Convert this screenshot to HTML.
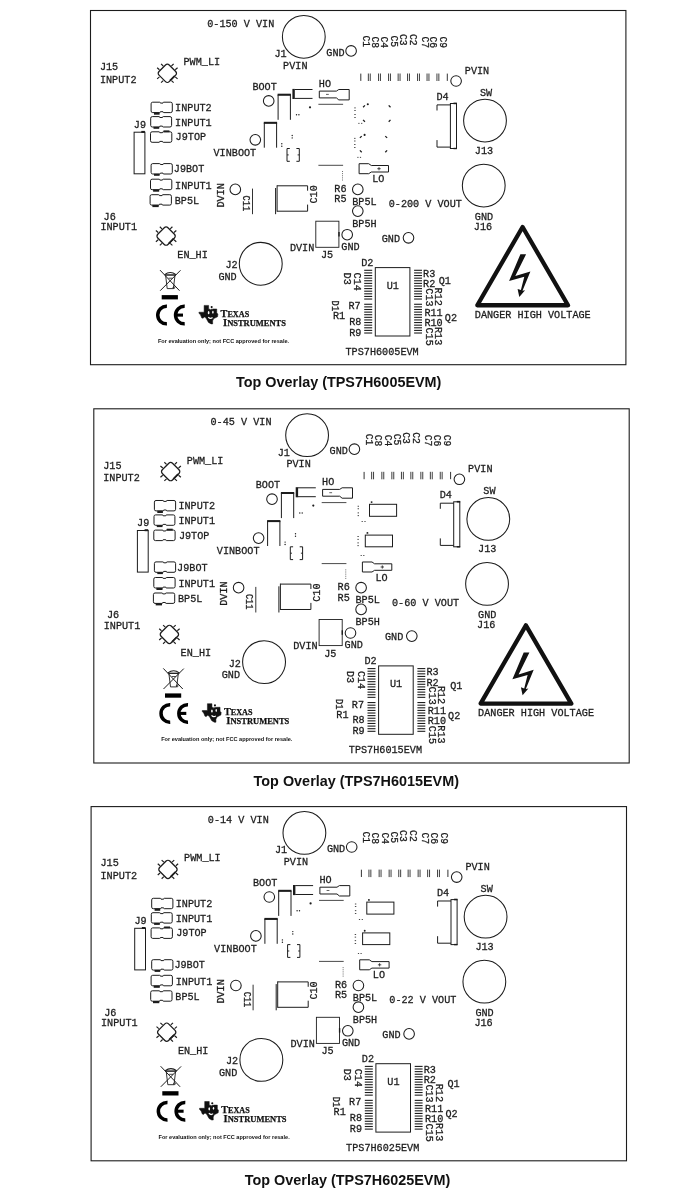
<!DOCTYPE html>
<html lang="en"><head><meta charset="utf-8"><title>Top Overlay</title>
<style>
html,body{margin:0;padding:0;background:#fff;}
body{width:689px;height:1200px;overflow:hidden;}
svg{display:block;will-change:transform;}
.brd{fill:none;stroke:#1c1c1c;stroke-linecap:butt;}
.brd text{font-family:"Liberation Mono","DejaVu Sans Mono",monospace;font-size:10.5px;fill:#1c1c1c;stroke:#1c1c1c;stroke-width:0.28px;}
.brd text.ti{font-family:"Liberation Serif","DejaVu Serif",serif;font-weight:bold;fill:#111;stroke:#111;stroke-width:0.25px;}
.brd text.fcc{font-family:"Liberation Sans","DejaVu Sans",sans-serif;font-weight:bold;font-size:4.9px;fill:#111;stroke:none;}
.cap{font-family:"Liberation Sans","DejaVu Sans",sans-serif;font-weight:bold;font-size:14.3px;fill:#111;}
</style></head><body>
<svg width="689" height="1200" viewBox="0 0 689 1200">
<rect width="689" height="1200" fill="#fff"/>
<g class="brd" transform="translate(90.5,10.5)">
<rect x="0" y="0" width="535.4" height="354.2" stroke-width="1.1"/>
<text x="116.70" y="16.30" textLength="67.10" lengthAdjust="spacingAndGlyphs">0-150 V VIN</text>
<text x="93.00" y="54.80" textLength="36.60" lengthAdjust="spacingAndGlyphs">PWM_LI</text>
<text x="9.40" y="59.80" textLength="18.30" lengthAdjust="spacingAndGlyphs">J15</text>
<text x="9.40" y="72.30" textLength="36.60" lengthAdjust="spacingAndGlyphs">INPUT2</text>
<text x="84.60" y="100.40" textLength="36.60" lengthAdjust="spacingAndGlyphs">INPUT2</text>
<text x="43.30" y="117.20" textLength="12.20" lengthAdjust="spacingAndGlyphs">J9</text>
<text x="84.60" y="115.20" textLength="36.60" lengthAdjust="spacingAndGlyphs">INPUT1</text>
<text x="85.10" y="129.80" textLength="30.50" lengthAdjust="spacingAndGlyphs">J9TOP</text>
<text x="123.00" y="145.10" textLength="42.70" lengthAdjust="spacingAndGlyphs">VINBOOT</text>
<text x="83.30" y="161.80" textLength="30.50" lengthAdjust="spacingAndGlyphs">J9BOT</text>
<text x="84.60" y="178.20" textLength="36.60" lengthAdjust="spacingAndGlyphs">INPUT1</text>
<text x="84.20" y="193.60" textLength="24.40" lengthAdjust="spacingAndGlyphs">BP5L</text>
<text transform="translate(133.00,197.00) rotate(-90)" textLength="24.40" lengthAdjust="spacingAndGlyphs">DVIN</text>
<text transform="translate(152.60,185.10) rotate(90)" textLength="15.60" lengthAdjust="spacingAndGlyphs">C11</text>
<text x="13.10" y="209.60" textLength="12.20" lengthAdjust="spacingAndGlyphs">J6</text>
<text x="9.90" y="219.90" textLength="36.60" lengthAdjust="spacingAndGlyphs">INPUT1</text>
<text x="86.80" y="247.10" textLength="30.50" lengthAdjust="spacingAndGlyphs">EN_HI</text>
<text x="134.90" y="257.80" textLength="12.20" lengthAdjust="spacingAndGlyphs">J2</text>
<text x="127.90" y="269.00" textLength="18.30" lengthAdjust="spacingAndGlyphs">GND</text>
<text x="183.90" y="46.80" textLength="12.20" lengthAdjust="spacingAndGlyphs">J1</text>
<text x="192.60" y="58.20" textLength="24.40" lengthAdjust="spacingAndGlyphs">PVIN</text>
<text x="235.80" y="45.70" textLength="18.30" lengthAdjust="spacingAndGlyphs">GND</text>
<text x="161.90" y="79.40" textLength="24.40" lengthAdjust="spacingAndGlyphs">BOOT</text>
<text x="228.30" y="76.00" textLength="12.20" lengthAdjust="spacingAndGlyphs">HO</text>
<text x="374.30" y="63.20" textLength="24.40" lengthAdjust="spacingAndGlyphs">PVIN</text>
<text x="389.50" y="85.60" textLength="12.20" lengthAdjust="spacingAndGlyphs">SW</text>
<text x="345.90" y="89.70" textLength="12.20" lengthAdjust="spacingAndGlyphs">D4</text>
<text x="384.30" y="143.60" textLength="18.30" lengthAdjust="spacingAndGlyphs">J13</text>
<text x="281.70" y="171.90" textLength="12.20" lengthAdjust="spacingAndGlyphs">LO</text>
<text x="243.80" y="181.30" textLength="12.20" lengthAdjust="spacingAndGlyphs">R6</text>
<text x="243.80" y="191.90" textLength="12.20" lengthAdjust="spacingAndGlyphs">R5</text>
<text x="261.70" y="194.50" textLength="24.40" lengthAdjust="spacingAndGlyphs">BP5L</text>
<text x="261.70" y="216.30" textLength="24.40" lengthAdjust="spacingAndGlyphs">BP5H</text>
<text x="298.20" y="196.90" textLength="73.20" lengthAdjust="spacingAndGlyphs">0-200 V VOUT</text>
<text transform="translate(226.10,193.00) rotate(-90)" textLength="18.30" lengthAdjust="spacingAndGlyphs">C10</text>
<text x="199.40" y="240.50" textLength="24.40" lengthAdjust="spacingAndGlyphs">DVIN</text>
<text x="230.40" y="247.80" textLength="12.20" lengthAdjust="spacingAndGlyphs">J5</text>
<text x="250.80" y="239.70" textLength="18.30" lengthAdjust="spacingAndGlyphs">GND</text>
<text x="291.20" y="231.50" textLength="18.30" lengthAdjust="spacingAndGlyphs">GND</text>
<text x="384.30" y="209.00" textLength="18.30" lengthAdjust="spacingAndGlyphs">GND</text>
<text x="383.30" y="219.30" textLength="18.30" lengthAdjust="spacingAndGlyphs">J16</text>
<text x="270.70" y="255.30" textLength="12.20" lengthAdjust="spacingAndGlyphs">D2</text>
<text x="296.20" y="278.40" textLength="12.20" lengthAdjust="spacingAndGlyphs">U1</text>
<text transform="translate(253.10,262.10) rotate(90)" textLength="12.20" lengthAdjust="spacingAndGlyphs">D3</text>
<text transform="translate(263.80,262.10) rotate(90)" textLength="18.30" lengthAdjust="spacingAndGlyphs">C14</text>
<text transform="translate(241.90,290.10) rotate(90)" textLength="10.60" lengthAdjust="spacingAndGlyphs">D1</text>
<text x="258.00" y="298.90" textLength="12.20" lengthAdjust="spacingAndGlyphs">R7</text>
<text x="242.50" y="308.90" textLength="12.20" lengthAdjust="spacingAndGlyphs">R1</text>
<text x="258.70" y="314.40" textLength="12.20" lengthAdjust="spacingAndGlyphs">R8</text>
<text x="258.70" y="325.10" textLength="12.20" lengthAdjust="spacingAndGlyphs">R9</text>
<text x="255.00" y="344.50" textLength="73.20" lengthAdjust="spacingAndGlyphs">TPS7H6005EVM</text>
<text x="332.60" y="266.40" textLength="12.20" lengthAdjust="spacingAndGlyphs">R3</text>
<text x="332.60" y="276.90" textLength="12.20" lengthAdjust="spacingAndGlyphs">R2</text>
<text x="348.20" y="273.90" textLength="12.20" lengthAdjust="spacingAndGlyphs">Q1</text>
<text transform="translate(335.00,277.80) rotate(90)" textLength="18.30" lengthAdjust="spacingAndGlyphs">C13</text>
<text transform="translate(344.50,277.10) rotate(90)" textLength="18.30" lengthAdjust="spacingAndGlyphs">R12</text>
<text x="333.90" y="305.10" textLength="18.30" lengthAdjust="spacingAndGlyphs">R11</text>
<text x="354.30" y="310.70" textLength="12.20" lengthAdjust="spacingAndGlyphs">Q2</text>
<text x="333.90" y="315.10" textLength="18.30" lengthAdjust="spacingAndGlyphs">R10</text>
<text transform="translate(335.00,317.00) rotate(90)" textLength="18.30" lengthAdjust="spacingAndGlyphs">C15</text>
<text transform="translate(344.50,316.50) rotate(90)" textLength="18.30" lengthAdjust="spacingAndGlyphs">R13</text>
<text transform="translate(272.00,24.90) rotate(90)" textLength="11.60" lengthAdjust="spacingAndGlyphs">C1</text>
<text transform="translate(281.10,25.90) rotate(90)" textLength="11.60" lengthAdjust="spacingAndGlyphs">C8</text>
<text transform="translate(290.90,25.90) rotate(90)" textLength="11.60" lengthAdjust="spacingAndGlyphs">C4</text>
<text transform="translate(300.10,24.90) rotate(90)" textLength="11.60" lengthAdjust="spacingAndGlyphs">C5</text>
<text transform="translate(309.10,23.50) rotate(90)" textLength="11.60" lengthAdjust="spacingAndGlyphs">C3</text>
<text transform="translate(319.30,23.50) rotate(90)" textLength="11.60" lengthAdjust="spacingAndGlyphs">C2</text>
<text transform="translate(331.20,25.90) rotate(90)" textLength="11.60" lengthAdjust="spacingAndGlyphs">C7</text>
<text transform="translate(339.90,25.90) rotate(90)" textLength="11.60" lengthAdjust="spacingAndGlyphs">C6</text>
<text transform="translate(349.70,25.90) rotate(90)" textLength="11.60" lengthAdjust="spacingAndGlyphs">C9</text>
<circle cx="213.30" cy="26.35" r="21.40" stroke-width="1.05"/>
<circle cx="170.25" cy="253.30" r="21.45" stroke-width="1.05"/>
<circle cx="394.50" cy="110.10" r="21.40" stroke-width="1.05"/>
<circle cx="393.25" cy="175.10" r="21.40" stroke-width="1.05"/>
<circle cx="260.60" cy="40.40" r="5.30" stroke-width="1.05"/>
<circle cx="178.20" cy="90.40" r="5.30" stroke-width="1.05"/>
<circle cx="164.80" cy="129.30" r="5.30" stroke-width="1.05"/>
<circle cx="365.60" cy="70.50" r="5.30" stroke-width="1.05"/>
<circle cx="144.80" cy="178.90" r="5.30" stroke-width="1.05"/>
<circle cx="267.30" cy="178.90" r="5.30" stroke-width="1.05"/>
<circle cx="267.30" cy="200.60" r="5.30" stroke-width="1.05"/>
<circle cx="256.70" cy="224.20" r="5.30" stroke-width="1.05"/>
<circle cx="318.00" cy="227.30" r="5.30" stroke-width="1.05"/>
<g transform="translate(76.85,62.80)">
<rect x="-7.21" y="-7.21" width="14.42" height="14.42" rx="2.6" transform="rotate(45)" stroke-width="1.3"/>
<line x1="2.6" y1="7.4" x2="7.4" y2="2.6" stroke-width="1.7"/>
<line x1="-6.30" y1="-9.35" x2="-4.10" y2="-7.30" stroke-width="1.15"/>
<line x1="-10.20" y1="-5.60" x2="-7.90" y2="-3.60" stroke-width="1.15"/>
<line x1="-6.30" y1="9.35" x2="-4.10" y2="7.30" stroke-width="1.15"/>
<line x1="-10.20" y1="5.60" x2="-7.90" y2="3.60" stroke-width="1.15"/>
<line x1="6.30" y1="-9.35" x2="4.10" y2="-7.30" stroke-width="1.15"/>
<line x1="10.20" y1="-5.60" x2="7.90" y2="-3.60" stroke-width="1.15"/>
<line x1="6.30" y1="9.35" x2="4.10" y2="7.30" stroke-width="1.15"/>
<line x1="10.20" y1="5.60" x2="7.90" y2="3.60" stroke-width="1.15"/>
</g>
<g transform="translate(75.60,225.60)">
<rect x="-7.21" y="-7.21" width="14.42" height="14.42" rx="2.6" transform="rotate(45)" stroke-width="1.3"/>
<line x1="2.6" y1="7.4" x2="7.4" y2="2.6" stroke-width="1.7"/>
<line x1="-6.30" y1="-9.35" x2="-4.10" y2="-7.30" stroke-width="1.15"/>
<line x1="-10.20" y1="-5.60" x2="-7.90" y2="-3.60" stroke-width="1.15"/>
<line x1="-6.30" y1="9.35" x2="-4.10" y2="7.30" stroke-width="1.15"/>
<line x1="-10.20" y1="5.60" x2="-7.90" y2="3.60" stroke-width="1.15"/>
<line x1="6.30" y1="-9.35" x2="4.10" y2="-7.30" stroke-width="1.15"/>
<line x1="10.20" y1="-5.60" x2="7.90" y2="-3.60" stroke-width="1.15"/>
<line x1="6.30" y1="9.35" x2="4.10" y2="7.30" stroke-width="1.15"/>
<line x1="10.20" y1="5.60" x2="7.90" y2="3.60" stroke-width="1.15"/>
</g>
<path d="M62.20,91.70 L69.10,91.70 Q69.90,91.70 69.90,92.60 L72.50,92.60 Q72.50,91.70 73.30,91.70 L80.20,91.70 Q81.80,91.70 81.80,93.30 L81.80,100.50 Q81.80,102.10 80.20,102.10 L73.30,102.10 Q72.50,102.10 72.50,101.20 L69.90,101.20 Q69.90,102.10 69.10,102.10 L62.20,102.10 Q60.60,102.10 60.60,100.50 L60.60,93.30 Q60.60,91.70 62.20,91.70 Z" stroke-width="1.0"/>
<rect x="63.50" y="101.90" width="5.60" height="2.30" rx="0" stroke-width="1.0" fill="#1c1c1c" stroke="none"/>
<path d="M61.80,106.10 L68.55,106.10 Q69.35,106.10 69.35,107.00 L71.95,107.00 Q71.95,106.10 72.75,106.10 L79.50,106.10 Q81.10,106.10 81.10,107.70 L81.10,114.90 Q81.10,116.50 79.50,116.50 L72.75,116.50 Q71.95,116.50 71.95,115.60 L69.35,115.60 Q69.35,116.50 68.55,116.50 L61.80,116.50 Q60.20,116.50 60.20,114.90 L60.20,107.70 Q60.20,106.10 61.80,106.10 Z" stroke-width="1.0"/>
<rect x="63.00" y="116.30" width="5.70" height="2.00" rx="0" stroke-width="1.0" fill="#1c1c1c" stroke="none"/>
<path d="M61.60,121.30 L68.55,121.30 Q69.35,121.30 69.35,122.20 L71.95,122.20 Q71.95,121.30 72.75,121.30 L79.70,121.30 Q81.30,121.30 81.30,122.90 L81.30,130.20 Q81.30,131.80 79.70,131.80 L72.75,131.80 Q71.95,131.80 71.95,130.90 L69.35,130.90 Q69.35,131.80 68.55,131.80 L61.60,131.80 Q60.00,131.80 60.00,130.20 L60.00,122.90 Q60.00,121.30 61.60,121.30 Z" stroke-width="1.0"/>
<rect x="73.00" y="119.90" width="5.90" height="1.80" rx="0" stroke-width="1.0" fill="#1c1c1c" stroke="none"/>
<path d="M62.20,153.10 L69.10,153.10 Q69.90,153.10 69.90,154.00 L72.50,154.00 Q72.50,153.10 73.30,153.10 L80.20,153.10 Q81.80,153.10 81.80,154.70 L81.80,161.90 Q81.80,163.50 80.20,163.50 L73.30,163.50 Q72.50,163.50 72.50,162.60 L69.90,162.60 Q69.90,163.50 69.10,163.50 L62.20,163.50 Q60.60,163.50 60.60,161.90 L60.60,154.70 Q60.60,153.10 62.20,153.10 Z" stroke-width="1.0"/>
<rect x="63.50" y="163.30" width="5.60" height="2.00" rx="0" stroke-width="1.0" fill="#1c1c1c" stroke="none"/>
<path d="M61.60,168.70 L68.55,168.70 Q69.35,168.70 69.35,169.60 L71.95,169.60 Q71.95,168.70 72.75,168.70 L79.70,168.70 Q81.30,168.70 81.30,170.30 L81.30,177.60 Q81.30,179.20 79.70,179.20 L72.75,179.20 Q71.95,179.20 71.95,178.30 L69.35,178.30 Q69.35,179.20 68.55,179.20 L61.60,179.20 Q60.00,179.20 60.00,177.60 L60.00,170.30 Q60.00,168.70 61.60,168.70 Z" stroke-width="1.0"/>
<rect x="62.60" y="179.00" width="6.10" height="2.20" rx="0" stroke-width="1.0" fill="#1c1c1c" stroke="none"/>
<path d="M61.20,184.20 L68.15,184.20 Q68.95,184.20 68.95,185.10 L71.55,185.10 Q71.55,184.20 72.35,184.20 L79.30,184.20 Q80.90,184.20 80.90,185.80 L80.90,193.00 Q80.90,194.60 79.30,194.60 L72.35,194.60 Q71.55,194.60 71.55,193.70 L68.95,193.70 Q68.95,194.60 68.15,194.60 L61.20,194.60 Q59.60,194.60 59.60,193.00 L59.60,185.80 Q59.60,184.20 61.20,184.20 Z" stroke-width="1.0"/>
<rect x="61.90" y="194.40" width="6.30" height="2.20" rx="0" stroke-width="1.0" fill="#1c1c1c" stroke="none"/>
<rect x="43.60" y="121.70" width="10.80" height="41.60" rx="0" stroke-width="1.0" fill="none" />
<rect x="50.80" y="120.40" width="3.60" height="2.00" rx="0" stroke-width="1.0" fill="#1c1c1c" stroke="none"/>
<polyline points="187.60,109.30 187.60,84.30 199.90,84.30 199.90,109.30" fill="none" stroke-width="1.0" />
<rect x="187.10" y="83.20" width="13.30" height="2.00" rx="0" stroke-width="1.0" fill="#1c1c1c" stroke="none"/>
<polyline points="173.80,137.20 173.80,112.30 186.10,112.30 186.10,137.20" fill="none" stroke-width="1.0" />
<rect x="173.30" y="111.30" width="13.30" height="2.00" rx="0" stroke-width="1.0" fill="#1c1c1c" stroke="none"/>
<rect x="201.90" y="78.40" width="2.40" height="10.10" rx="0" stroke-width="1.0" fill="#1c1c1c" stroke="none"/>
<line x1="204.10" y1="79.00" x2="222.00" y2="79.00" stroke-width="1.0" />
<line x1="204.10" y1="87.90" x2="222.00" y2="87.90" stroke-width="1.0" />
<polygon points="228.80,80.60 245.90,80.60 248.30,79.00 258.70,79.00 258.70,89.40 248.30,89.40 245.90,87.40 228.80,87.40" fill="none" stroke-width="1.0" />
<line x1="235.50" y1="83.90" x2="238.30" y2="83.90" stroke-width="0.7" />
<line x1="227.90" y1="93.80" x2="252.60" y2="93.80" stroke-width="0.8" />
<circle cx="219.50" cy="96.80" r="1.1" fill="#1c1c1c" stroke="none"/>
<polygon points="268.60,153.20 278.20,153.20 280.80,155.00 298.00,155.00 298.00,161.50 280.80,161.50 278.20,163.20 268.60,163.20" fill="none" stroke-width="1.0" />
<line x1="286.80" y1="158.20" x2="290.20" y2="158.20" stroke-width="0.8" />
<line x1="288.50" y1="156.60" x2="288.50" y2="159.80" stroke-width="0.8" />
<line x1="227.90" y1="154.80" x2="252.60" y2="154.80" stroke-width="0.8" />
<rect x="251.60" y="160.70" width="0.80" height="0.80" rx="0" stroke-width="1.0" fill="#1c1c1c" stroke="none"/>
<rect x="251.60" y="162.80" width="0.80" height="0.80" rx="0" stroke-width="1.0" fill="#1c1c1c" stroke="none"/>
<rect x="251.60" y="164.90" width="0.80" height="0.80" rx="0" stroke-width="1.0" fill="#1c1c1c" stroke="none"/>
<rect x="251.60" y="167.00" width="0.80" height="0.80" rx="0" stroke-width="1.0" fill="#1c1c1c" stroke="none"/>
<rect x="251.60" y="169.10" width="0.80" height="0.80" rx="0" stroke-width="1.0" fill="#1c1c1c" stroke="none"/>
<polyline points="199.30,138.00 196.50,138.00 196.50,150.80 199.30,150.80" fill="none" stroke-width="1.0" />
<line x1="196.50" y1="144.40" x2="198.20" y2="144.40" stroke-width="0.9" />
<polyline points="205.90,138.00 208.80,138.00 208.80,150.80 205.90,150.80" fill="none" stroke-width="1.0" />
<line x1="208.80" y1="144.40" x2="207.10" y2="144.40" stroke-width="0.9" />
<circle cx="206.00" cy="104.20" r="0.7" fill="#1c1c1c" stroke="none"/>
<circle cx="208.40" cy="104.20" r="0.7" fill="#1c1c1c" stroke="none"/>
<circle cx="201.70" cy="125.00" r="0.7" fill="#1c1c1c" stroke="none"/>
<circle cx="201.70" cy="127.40" r="0.7" fill="#1c1c1c" stroke="none"/>
<circle cx="191.30" cy="133.30" r="0.7" fill="#1c1c1c" stroke="none"/>
<circle cx="191.30" cy="135.70" r="0.7" fill="#1c1c1c" stroke="none"/>
<line x1="270.30" y1="63.10" x2="270.30" y2="70.40" stroke-width="0.9" />
<line x1="277.85" y1="63.00" x2="277.85" y2="70.50" stroke-width="0.85" />
<line x1="279.75" y1="63.00" x2="279.75" y2="70.50" stroke-width="0.85" />
<line x1="288.05" y1="63.00" x2="288.05" y2="70.50" stroke-width="0.85" />
<line x1="289.95" y1="63.00" x2="289.95" y2="70.50" stroke-width="0.85" />
<line x1="298.05" y1="63.00" x2="298.05" y2="70.50" stroke-width="0.85" />
<line x1="299.95" y1="63.00" x2="299.95" y2="70.50" stroke-width="0.85" />
<line x1="307.65" y1="63.00" x2="307.65" y2="70.50" stroke-width="0.85" />
<line x1="309.55" y1="63.00" x2="309.55" y2="70.50" stroke-width="0.85" />
<line x1="317.05" y1="63.00" x2="317.05" y2="70.50" stroke-width="0.85" />
<line x1="318.95" y1="63.00" x2="318.95" y2="70.50" stroke-width="0.85" />
<line x1="327.05" y1="63.00" x2="327.05" y2="70.50" stroke-width="0.85" />
<line x1="328.95" y1="63.00" x2="328.95" y2="70.50" stroke-width="0.85" />
<line x1="336.55" y1="63.00" x2="336.55" y2="70.50" stroke-width="0.85" />
<line x1="338.45" y1="63.00" x2="338.45" y2="70.50" stroke-width="0.85" />
<line x1="346.45" y1="63.00" x2="346.45" y2="70.50" stroke-width="0.85" />
<line x1="348.35" y1="63.00" x2="348.35" y2="70.50" stroke-width="0.85" />
<line x1="356.80" y1="63.10" x2="356.80" y2="70.40" stroke-width="0.9" />
<polyline points="346.50,100.00 346.50,94.40 359.90,94.40" fill="none" stroke-width="1.0" />
<polyline points="346.50,129.60 346.50,136.60 359.90,136.60" fill="none" stroke-width="1.0" />
<rect x="359.90" y="93.00" width="6.10" height="45.00" rx="0" stroke-width="1.0" fill="none" />
<rect x="363.00" y="92.10" width="3.40" height="1.60" rx="0" stroke-width="1.0" fill="#1c1c1c" stroke="none"/>
<rect x="363.00" y="137.30" width="3.40" height="1.40" rx="0" stroke-width="1.0" fill="#1c1c1c" stroke="none"/>
<line x1="272.60" y1="96.70" x2="274.40" y2="94.90" stroke-width="1.3" />
<line x1="298.20" y1="94.90" x2="300.00" y2="96.70" stroke-width="1.3" />
<line x1="272.60" y1="109.40" x2="274.40" y2="111.20" stroke-width="1.3" />
<line x1="298.20" y1="111.20" x2="300.00" y2="109.40" stroke-width="1.3" />
<circle cx="277.30" cy="93.80" r="1.05" fill="#1c1c1c" stroke="none"/>
<line x1="269.40" y1="127.40" x2="271.20" y2="125.60" stroke-width="1.3" />
<line x1="294.80" y1="125.60" x2="296.60" y2="127.40" stroke-width="1.3" />
<line x1="269.40" y1="139.90" x2="271.20" y2="141.70" stroke-width="1.3" />
<line x1="294.80" y1="141.70" x2="296.60" y2="139.90" stroke-width="1.3" />
<circle cx="274.10" cy="124.40" r="1.05" fill="#1c1c1c" stroke="none"/>
<rect x="263.80" y="97.00" width="1.40" height="0.80" rx="0" stroke-width="1.0" fill="#1c1c1c" stroke="none"/>
<rect x="263.80" y="99.60" width="1.40" height="0.80" rx="0" stroke-width="1.0" fill="#1c1c1c" stroke="none"/>
<rect x="263.80" y="103.70" width="1.40" height="0.80" rx="0" stroke-width="1.0" fill="#1c1c1c" stroke="none"/>
<rect x="263.80" y="106.50" width="1.40" height="0.80" rx="0" stroke-width="1.0" fill="#1c1c1c" stroke="none"/>
<rect x="263.60" y="127.40" width="1.40" height="0.80" rx="0" stroke-width="1.0" fill="#1c1c1c" stroke="none"/>
<rect x="263.60" y="130.10" width="1.40" height="0.80" rx="0" stroke-width="1.0" fill="#1c1c1c" stroke="none"/>
<rect x="263.60" y="133.70" width="1.40" height="0.80" rx="0" stroke-width="1.0" fill="#1c1c1c" stroke="none"/>
<rect x="263.60" y="136.50" width="1.40" height="0.80" rx="0" stroke-width="1.0" fill="#1c1c1c" stroke="none"/>
<rect x="267.80" y="112.40" width="1.20" height="0.80" rx="0" stroke-width="1.0" fill="#1c1c1c" stroke="none"/>
<rect x="270.60" y="112.40" width="1.20" height="0.80" rx="0" stroke-width="1.0" fill="#1c1c1c" stroke="none"/>
<rect x="266.80" y="146.40" width="1.20" height="0.80" rx="0" stroke-width="1.0" fill="#1c1c1c" stroke="none"/>
<rect x="269.40" y="146.40" width="1.20" height="0.80" rx="0" stroke-width="1.0" fill="#1c1c1c" stroke="none"/>
<line x1="162.00" y1="178.10" x2="162.00" y2="203.70" stroke-width="0.9" />
<polyline points="186.60,175.30 217.10,175.30 217.10,180.20" fill="none" stroke-width="1.0" />
<polyline points="217.10,194.10 217.10,200.70 186.60,200.70" fill="none" stroke-width="1.0" />
<line x1="186.60" y1="174.80" x2="186.60" y2="201.20" stroke-width="1.0" />
<line x1="185.10" y1="177.50" x2="185.10" y2="203.70" stroke-width="1.0" />
<rect x="225.30" y="210.70" width="23.10" height="26.10" rx="0" stroke-width="0.9" fill="none" />
<rect x="247.80" y="221.50" width="1.40" height="4.50" rx="0" stroke-width="1.0" fill="#1c1c1c" stroke="none"/>
<rect x="284.80" y="257.10" width="34.60" height="68.40" rx="0" stroke-width="1.0" fill="none" />
<line x1="273.70" y1="259.80" x2="281.70" y2="259.80" stroke-width="1.1" />
<line x1="323.60" y1="259.80" x2="331.50" y2="259.80" stroke-width="1.1" />
<line x1="273.70" y1="262.41" x2="281.70" y2="262.41" stroke-width="1.1" />
<line x1="323.60" y1="262.41" x2="331.50" y2="262.41" stroke-width="1.1" />
<line x1="273.70" y1="265.03" x2="281.70" y2="265.03" stroke-width="1.1" />
<line x1="323.60" y1="265.03" x2="331.50" y2="265.03" stroke-width="1.1" />
<line x1="273.70" y1="267.64" x2="281.70" y2="267.64" stroke-width="1.1" />
<line x1="323.60" y1="267.64" x2="331.50" y2="267.64" stroke-width="1.1" />
<line x1="273.70" y1="270.25" x2="281.70" y2="270.25" stroke-width="1.1" />
<line x1="323.60" y1="270.25" x2="331.50" y2="270.25" stroke-width="1.1" />
<line x1="273.70" y1="272.87" x2="281.70" y2="272.87" stroke-width="1.1" />
<line x1="323.60" y1="272.87" x2="331.50" y2="272.87" stroke-width="1.1" />
<line x1="273.70" y1="275.48" x2="281.70" y2="275.48" stroke-width="1.1" />
<line x1="323.60" y1="275.48" x2="331.50" y2="275.48" stroke-width="1.1" />
<line x1="273.70" y1="278.09" x2="281.70" y2="278.09" stroke-width="1.1" />
<line x1="323.60" y1="278.09" x2="331.50" y2="278.09" stroke-width="1.1" />
<line x1="273.70" y1="280.70" x2="281.70" y2="280.70" stroke-width="1.1" />
<line x1="323.60" y1="280.70" x2="331.50" y2="280.70" stroke-width="1.1" />
<line x1="273.70" y1="283.32" x2="281.70" y2="283.32" stroke-width="1.1" />
<line x1="323.60" y1="283.32" x2="331.50" y2="283.32" stroke-width="1.1" />
<line x1="273.70" y1="285.93" x2="281.70" y2="285.93" stroke-width="1.1" />
<line x1="323.60" y1="285.93" x2="331.50" y2="285.93" stroke-width="1.1" />
<line x1="273.70" y1="288.54" x2="281.70" y2="288.54" stroke-width="1.1" />
<line x1="323.60" y1="288.54" x2="331.50" y2="288.54" stroke-width="1.1" />
<line x1="273.70" y1="293.77" x2="281.70" y2="293.77" stroke-width="1.1" />
<line x1="323.60" y1="293.77" x2="331.50" y2="293.77" stroke-width="1.1" />
<line x1="273.70" y1="296.38" x2="281.70" y2="296.38" stroke-width="1.1" />
<line x1="323.60" y1="296.38" x2="331.50" y2="296.38" stroke-width="1.1" />
<line x1="273.70" y1="299.00" x2="281.70" y2="299.00" stroke-width="1.1" />
<line x1="323.60" y1="299.00" x2="331.50" y2="299.00" stroke-width="1.1" />
<line x1="273.70" y1="301.61" x2="281.70" y2="301.61" stroke-width="1.1" />
<line x1="323.60" y1="301.61" x2="331.50" y2="301.61" stroke-width="1.1" />
<line x1="273.70" y1="304.22" x2="281.70" y2="304.22" stroke-width="1.1" />
<line x1="323.60" y1="304.22" x2="331.50" y2="304.22" stroke-width="1.1" />
<line x1="273.70" y1="306.83" x2="281.70" y2="306.83" stroke-width="1.1" />
<line x1="323.60" y1="306.83" x2="331.50" y2="306.83" stroke-width="1.1" />
<line x1="273.70" y1="309.45" x2="281.70" y2="309.45" stroke-width="1.1" />
<line x1="323.60" y1="309.45" x2="331.50" y2="309.45" stroke-width="1.1" />
<line x1="273.70" y1="312.06" x2="281.70" y2="312.06" stroke-width="1.1" />
<line x1="323.60" y1="312.06" x2="331.50" y2="312.06" stroke-width="1.1" />
<line x1="273.70" y1="314.67" x2="281.70" y2="314.67" stroke-width="1.1" />
<line x1="323.60" y1="314.67" x2="331.50" y2="314.67" stroke-width="1.1" />
<line x1="273.70" y1="317.29" x2="281.70" y2="317.29" stroke-width="1.1" />
<line x1="323.60" y1="317.29" x2="331.50" y2="317.29" stroke-width="1.1" />
<line x1="273.70" y1="319.90" x2="281.70" y2="319.90" stroke-width="1.1" />
<line x1="323.60" y1="319.90" x2="331.50" y2="319.90" stroke-width="1.1" />
<line x1="273.70" y1="322.51" x2="281.70" y2="322.51" stroke-width="1.1" />
<line x1="323.60" y1="322.51" x2="331.50" y2="322.51" stroke-width="1.1" />
<line x1="69.50" y1="259.60" x2="89.00" y2="280.20" stroke-width="1.0" />
<line x1="90.00" y1="259.80" x2="69.70" y2="280.20" stroke-width="1.0" />
<polygon points="75.10,264.70 84.50,264.70 82.90,278.10 76.70,278.10" fill="none" stroke-width="0.9" />
<path d="M74.10,264.10 q5.7,-4.2 11.4,0" stroke-width="1.1"/>
<line x1="74.10" y1="264.30" x2="85.50" y2="264.30" stroke-width="0.9" />
<circle cx="83.40" cy="277.10" r="0.90" stroke-width="0.8"/>
<line x1="78.00" y1="267.70" x2="82.00" y2="267.70" stroke-width="0.8" />
<rect x="71.20" y="284.60" width="16.20" height="4.30" rx="0" stroke-width="1.0" fill="#000" stroke="none"/>
<path d="M76.41,313.34 A8.75,8.75 0 1 1 76.41,295.86" stroke-width="3.5" stroke="#000"/>
<path d="M94.21,313.34 A8.75,8.75 0 1 1 94.21,295.86" stroke-width="3.5" stroke="#000"/>
<line x1="86.10" y1="304.60" x2="92.50" y2="304.60" stroke-width="3.1" stroke="#000"/>
<path d="M113.61,294.90 L118.14,294.90 L118.14,298.67 L119.54,298.67 L120.03,299.61 L120.78,298.67 L122.48,298.67 L122.48,298.48 L126.25,298.48 L126.25,302.44 L127.39,303.58 L127.08,306.22 L123.24,308.10 L122.10,310.37 L122.18,313.39 L120.59,313.39 L117.95,311.88 L116.44,309.24 L115.39,307.35 L113.88,306.52 L112.37,307.80 L111.16,307.35 L110.03,304.33 L108.44,302.82 L108.44,301.69 L113.61,301.69 Z" fill="#111" stroke="#111" stroke-width="0.5" stroke-linejoin="round"/>
<circle cx="121.16" cy="296.59" r="1.05" fill="#111" stroke="none"/>
<ellipse cx="118.14" cy="302.18" rx="0.85" ry="1.6" fill="#fff" stroke="none"/>
<ellipse cx="122.41" cy="301.76" rx="0.7" ry="1.45" fill="#fff" stroke="none"/>
<path d="M117.76,306.59 Q119.84,308.93 122.03,307.05" stroke="#fff" stroke-width="1.25" fill="none"/>
<text x="130.10" y="306.10" class="ti" textLength="28.6" lengthAdjust="spacingAndGlyphs"><tspan font-size="11.1">T</tspan><tspan font-size="8.9">EXAS</tspan></text>
<text x="132.50" y="315.30" class="ti" textLength="63.0" lengthAdjust="spacingAndGlyphs"><tspan font-size="11.1">I</tspan><tspan font-size="8.9">NSTRUMENTS</tspan></text>
<text x="67.40" y="332.60" class="fcc" textLength="131.2" lengthAdjust="spacingAndGlyphs">For evaluation only; not FCC approved for resale.</text>
<polygon points="432.10,216.50 477.50,294.75 386.80,294.75" fill="none" stroke-width="4.3" stroke-linejoin="round" stroke="#111"/>
<polygon points="429.90,243.70 435.60,243.70 424.80,265.60 439.90,260.90 432.00,280.30 434.60,279.80 428.80,286.50 427.10,278.50 430.40,279.60 433.80,266.20 418.60,270.50" fill="#111" stroke="none" />
<text x="384.30" y="307.30" textLength="115.90" lengthAdjust="spacingAndGlyphs">DANGER HIGH VOLTAGE</text>
</g>
<text class="cap" x="236.0" y="386.6" textLength="205.4" lengthAdjust="spacingAndGlyphs">Top Overlay (TPS7H6005EVM)</text>
<g class="brd" transform="translate(93.8,408.8)">
<rect x="0" y="0" width="535.4" height="354.2" stroke-width="1.1"/>
<text x="116.70" y="16.30" textLength="61.00" lengthAdjust="spacingAndGlyphs">0-45 V VIN</text>
<text x="93.00" y="54.80" textLength="36.60" lengthAdjust="spacingAndGlyphs">PWM_LI</text>
<text x="9.40" y="59.80" textLength="18.30" lengthAdjust="spacingAndGlyphs">J15</text>
<text x="9.40" y="72.30" textLength="36.60" lengthAdjust="spacingAndGlyphs">INPUT2</text>
<text x="84.60" y="100.40" textLength="36.60" lengthAdjust="spacingAndGlyphs">INPUT2</text>
<text x="43.30" y="117.20" textLength="12.20" lengthAdjust="spacingAndGlyphs">J9</text>
<text x="84.60" y="115.20" textLength="36.60" lengthAdjust="spacingAndGlyphs">INPUT1</text>
<text x="85.10" y="129.80" textLength="30.50" lengthAdjust="spacingAndGlyphs">J9TOP</text>
<text x="123.00" y="145.10" textLength="42.70" lengthAdjust="spacingAndGlyphs">VINBOOT</text>
<text x="83.30" y="161.80" textLength="30.50" lengthAdjust="spacingAndGlyphs">J9BOT</text>
<text x="84.60" y="178.20" textLength="36.60" lengthAdjust="spacingAndGlyphs">INPUT1</text>
<text x="84.20" y="193.60" textLength="24.40" lengthAdjust="spacingAndGlyphs">BP5L</text>
<text transform="translate(133.00,197.00) rotate(-90)" textLength="24.40" lengthAdjust="spacingAndGlyphs">DVIN</text>
<text transform="translate(152.60,185.10) rotate(90)" textLength="15.60" lengthAdjust="spacingAndGlyphs">C11</text>
<text x="13.10" y="209.60" textLength="12.20" lengthAdjust="spacingAndGlyphs">J6</text>
<text x="9.90" y="219.90" textLength="36.60" lengthAdjust="spacingAndGlyphs">INPUT1</text>
<text x="86.80" y="247.10" textLength="30.50" lengthAdjust="spacingAndGlyphs">EN_HI</text>
<text x="134.90" y="257.80" textLength="12.20" lengthAdjust="spacingAndGlyphs">J2</text>
<text x="127.90" y="269.00" textLength="18.30" lengthAdjust="spacingAndGlyphs">GND</text>
<text x="183.90" y="46.80" textLength="12.20" lengthAdjust="spacingAndGlyphs">J1</text>
<text x="192.60" y="58.20" textLength="24.40" lengthAdjust="spacingAndGlyphs">PVIN</text>
<text x="235.80" y="45.70" textLength="18.30" lengthAdjust="spacingAndGlyphs">GND</text>
<text x="161.90" y="79.40" textLength="24.40" lengthAdjust="spacingAndGlyphs">BOOT</text>
<text x="228.30" y="76.00" textLength="12.20" lengthAdjust="spacingAndGlyphs">HO</text>
<text x="374.30" y="63.20" textLength="24.40" lengthAdjust="spacingAndGlyphs">PVIN</text>
<text x="389.50" y="85.60" textLength="12.20" lengthAdjust="spacingAndGlyphs">SW</text>
<text x="345.90" y="89.70" textLength="12.20" lengthAdjust="spacingAndGlyphs">D4</text>
<text x="384.30" y="143.60" textLength="18.30" lengthAdjust="spacingAndGlyphs">J13</text>
<text x="281.70" y="171.90" textLength="12.20" lengthAdjust="spacingAndGlyphs">LO</text>
<text x="243.80" y="181.30" textLength="12.20" lengthAdjust="spacingAndGlyphs">R6</text>
<text x="243.80" y="191.90" textLength="12.20" lengthAdjust="spacingAndGlyphs">R5</text>
<text x="261.70" y="194.50" textLength="24.40" lengthAdjust="spacingAndGlyphs">BP5L</text>
<text x="261.70" y="216.30" textLength="24.40" lengthAdjust="spacingAndGlyphs">BP5H</text>
<text x="298.20" y="196.90" textLength="67.10" lengthAdjust="spacingAndGlyphs">0-60 V VOUT</text>
<text transform="translate(226.10,193.00) rotate(-90)" textLength="18.30" lengthAdjust="spacingAndGlyphs">C10</text>
<text x="199.40" y="240.50" textLength="24.40" lengthAdjust="spacingAndGlyphs">DVIN</text>
<text x="230.40" y="247.80" textLength="12.20" lengthAdjust="spacingAndGlyphs">J5</text>
<text x="250.80" y="239.70" textLength="18.30" lengthAdjust="spacingAndGlyphs">GND</text>
<text x="291.20" y="231.50" textLength="18.30" lengthAdjust="spacingAndGlyphs">GND</text>
<text x="384.30" y="209.00" textLength="18.30" lengthAdjust="spacingAndGlyphs">GND</text>
<text x="383.30" y="219.30" textLength="18.30" lengthAdjust="spacingAndGlyphs">J16</text>
<text x="270.70" y="255.30" textLength="12.20" lengthAdjust="spacingAndGlyphs">D2</text>
<text x="296.20" y="278.40" textLength="12.20" lengthAdjust="spacingAndGlyphs">U1</text>
<text transform="translate(253.10,262.10) rotate(90)" textLength="12.20" lengthAdjust="spacingAndGlyphs">D3</text>
<text transform="translate(263.80,262.10) rotate(90)" textLength="18.30" lengthAdjust="spacingAndGlyphs">C14</text>
<text transform="translate(241.90,290.10) rotate(90)" textLength="10.60" lengthAdjust="spacingAndGlyphs">D1</text>
<text x="258.00" y="298.90" textLength="12.20" lengthAdjust="spacingAndGlyphs">R7</text>
<text x="242.50" y="308.90" textLength="12.20" lengthAdjust="spacingAndGlyphs">R1</text>
<text x="258.70" y="314.40" textLength="12.20" lengthAdjust="spacingAndGlyphs">R8</text>
<text x="258.70" y="325.10" textLength="12.20" lengthAdjust="spacingAndGlyphs">R9</text>
<text x="255.00" y="344.50" textLength="73.20" lengthAdjust="spacingAndGlyphs">TPS7H6015EVM</text>
<text x="332.60" y="266.40" textLength="12.20" lengthAdjust="spacingAndGlyphs">R3</text>
<text x="332.60" y="276.90" textLength="12.20" lengthAdjust="spacingAndGlyphs">R2</text>
<text x="356.40" y="280.00" textLength="12.20" lengthAdjust="spacingAndGlyphs">Q1</text>
<text transform="translate(335.00,277.80) rotate(90)" textLength="18.30" lengthAdjust="spacingAndGlyphs">C13</text>
<text transform="translate(344.50,277.10) rotate(90)" textLength="18.30" lengthAdjust="spacingAndGlyphs">R12</text>
<text x="333.90" y="305.10" textLength="18.30" lengthAdjust="spacingAndGlyphs">R11</text>
<text x="354.30" y="310.70" textLength="12.20" lengthAdjust="spacingAndGlyphs">Q2</text>
<text x="333.90" y="315.10" textLength="18.30" lengthAdjust="spacingAndGlyphs">R10</text>
<text transform="translate(335.00,317.00) rotate(90)" textLength="18.30" lengthAdjust="spacingAndGlyphs">C15</text>
<text transform="translate(344.50,316.50) rotate(90)" textLength="18.30" lengthAdjust="spacingAndGlyphs">R13</text>
<text transform="translate(272.00,24.90) rotate(90)" textLength="11.60" lengthAdjust="spacingAndGlyphs">C1</text>
<text transform="translate(281.10,25.90) rotate(90)" textLength="11.60" lengthAdjust="spacingAndGlyphs">C8</text>
<text transform="translate(290.90,25.90) rotate(90)" textLength="11.60" lengthAdjust="spacingAndGlyphs">C4</text>
<text transform="translate(300.10,24.90) rotate(90)" textLength="11.60" lengthAdjust="spacingAndGlyphs">C5</text>
<text transform="translate(309.10,23.50) rotate(90)" textLength="11.60" lengthAdjust="spacingAndGlyphs">C3</text>
<text transform="translate(319.30,23.50) rotate(90)" textLength="11.60" lengthAdjust="spacingAndGlyphs">C2</text>
<text transform="translate(331.20,25.90) rotate(90)" textLength="11.60" lengthAdjust="spacingAndGlyphs">C7</text>
<text transform="translate(339.90,25.90) rotate(90)" textLength="11.60" lengthAdjust="spacingAndGlyphs">C6</text>
<text transform="translate(349.70,25.90) rotate(90)" textLength="11.60" lengthAdjust="spacingAndGlyphs">C9</text>
<circle cx="213.30" cy="26.35" r="21.40" stroke-width="1.05"/>
<circle cx="170.25" cy="253.30" r="21.45" stroke-width="1.05"/>
<circle cx="394.50" cy="110.10" r="21.40" stroke-width="1.05"/>
<circle cx="393.25" cy="175.10" r="21.40" stroke-width="1.05"/>
<circle cx="260.60" cy="40.40" r="5.30" stroke-width="1.05"/>
<circle cx="178.20" cy="90.40" r="5.30" stroke-width="1.05"/>
<circle cx="164.80" cy="129.30" r="5.30" stroke-width="1.05"/>
<circle cx="365.60" cy="70.50" r="5.30" stroke-width="1.05"/>
<circle cx="144.80" cy="178.90" r="5.30" stroke-width="1.05"/>
<circle cx="267.30" cy="178.90" r="5.30" stroke-width="1.05"/>
<circle cx="267.30" cy="200.60" r="5.30" stroke-width="1.05"/>
<circle cx="256.70" cy="224.20" r="5.30" stroke-width="1.05"/>
<circle cx="318.00" cy="227.30" r="5.30" stroke-width="1.05"/>
<g transform="translate(76.85,62.80)">
<rect x="-7.21" y="-7.21" width="14.42" height="14.42" rx="2.6" transform="rotate(45)" stroke-width="1.3"/>
<line x1="2.6" y1="7.4" x2="7.4" y2="2.6" stroke-width="1.7"/>
<line x1="-6.30" y1="-9.35" x2="-4.10" y2="-7.30" stroke-width="1.15"/>
<line x1="-10.20" y1="-5.60" x2="-7.90" y2="-3.60" stroke-width="1.15"/>
<line x1="-6.30" y1="9.35" x2="-4.10" y2="7.30" stroke-width="1.15"/>
<line x1="-10.20" y1="5.60" x2="-7.90" y2="3.60" stroke-width="1.15"/>
<line x1="6.30" y1="-9.35" x2="4.10" y2="-7.30" stroke-width="1.15"/>
<line x1="10.20" y1="-5.60" x2="7.90" y2="-3.60" stroke-width="1.15"/>
<line x1="6.30" y1="9.35" x2="4.10" y2="7.30" stroke-width="1.15"/>
<line x1="10.20" y1="5.60" x2="7.90" y2="3.60" stroke-width="1.15"/>
</g>
<g transform="translate(75.60,225.60)">
<rect x="-7.21" y="-7.21" width="14.42" height="14.42" rx="2.6" transform="rotate(45)" stroke-width="1.3"/>
<line x1="2.6" y1="7.4" x2="7.4" y2="2.6" stroke-width="1.7"/>
<line x1="-6.30" y1="-9.35" x2="-4.10" y2="-7.30" stroke-width="1.15"/>
<line x1="-10.20" y1="-5.60" x2="-7.90" y2="-3.60" stroke-width="1.15"/>
<line x1="-6.30" y1="9.35" x2="-4.10" y2="7.30" stroke-width="1.15"/>
<line x1="-10.20" y1="5.60" x2="-7.90" y2="3.60" stroke-width="1.15"/>
<line x1="6.30" y1="-9.35" x2="4.10" y2="-7.30" stroke-width="1.15"/>
<line x1="10.20" y1="-5.60" x2="7.90" y2="-3.60" stroke-width="1.15"/>
<line x1="6.30" y1="9.35" x2="4.10" y2="7.30" stroke-width="1.15"/>
<line x1="10.20" y1="5.60" x2="7.90" y2="3.60" stroke-width="1.15"/>
</g>
<path d="M62.20,91.70 L69.10,91.70 Q69.90,91.70 69.90,92.60 L72.50,92.60 Q72.50,91.70 73.30,91.70 L80.20,91.70 Q81.80,91.70 81.80,93.30 L81.80,100.50 Q81.80,102.10 80.20,102.10 L73.30,102.10 Q72.50,102.10 72.50,101.20 L69.90,101.20 Q69.90,102.10 69.10,102.10 L62.20,102.10 Q60.60,102.10 60.60,100.50 L60.60,93.30 Q60.60,91.70 62.20,91.70 Z" stroke-width="1.0"/>
<rect x="63.50" y="101.90" width="5.60" height="2.30" rx="0" stroke-width="1.0" fill="#1c1c1c" stroke="none"/>
<path d="M61.80,106.10 L68.55,106.10 Q69.35,106.10 69.35,107.00 L71.95,107.00 Q71.95,106.10 72.75,106.10 L79.50,106.10 Q81.10,106.10 81.10,107.70 L81.10,114.90 Q81.10,116.50 79.50,116.50 L72.75,116.50 Q71.95,116.50 71.95,115.60 L69.35,115.60 Q69.35,116.50 68.55,116.50 L61.80,116.50 Q60.20,116.50 60.20,114.90 L60.20,107.70 Q60.20,106.10 61.80,106.10 Z" stroke-width="1.0"/>
<rect x="63.00" y="116.30" width="5.70" height="2.00" rx="0" stroke-width="1.0" fill="#1c1c1c" stroke="none"/>
<path d="M61.60,121.30 L68.55,121.30 Q69.35,121.30 69.35,122.20 L71.95,122.20 Q71.95,121.30 72.75,121.30 L79.70,121.30 Q81.30,121.30 81.30,122.90 L81.30,130.20 Q81.30,131.80 79.70,131.80 L72.75,131.80 Q71.95,131.80 71.95,130.90 L69.35,130.90 Q69.35,131.80 68.55,131.80 L61.60,131.80 Q60.00,131.80 60.00,130.20 L60.00,122.90 Q60.00,121.30 61.60,121.30 Z" stroke-width="1.0"/>
<rect x="73.00" y="119.90" width="5.90" height="1.80" rx="0" stroke-width="1.0" fill="#1c1c1c" stroke="none"/>
<path d="M62.20,153.10 L69.10,153.10 Q69.90,153.10 69.90,154.00 L72.50,154.00 Q72.50,153.10 73.30,153.10 L80.20,153.10 Q81.80,153.10 81.80,154.70 L81.80,161.90 Q81.80,163.50 80.20,163.50 L73.30,163.50 Q72.50,163.50 72.50,162.60 L69.90,162.60 Q69.90,163.50 69.10,163.50 L62.20,163.50 Q60.60,163.50 60.60,161.90 L60.60,154.70 Q60.60,153.10 62.20,153.10 Z" stroke-width="1.0"/>
<rect x="63.50" y="163.30" width="5.60" height="2.00" rx="0" stroke-width="1.0" fill="#1c1c1c" stroke="none"/>
<path d="M61.60,168.70 L68.55,168.70 Q69.35,168.70 69.35,169.60 L71.95,169.60 Q71.95,168.70 72.75,168.70 L79.70,168.70 Q81.30,168.70 81.30,170.30 L81.30,177.60 Q81.30,179.20 79.70,179.20 L72.75,179.20 Q71.95,179.20 71.95,178.30 L69.35,178.30 Q69.35,179.20 68.55,179.20 L61.60,179.20 Q60.00,179.20 60.00,177.60 L60.00,170.30 Q60.00,168.70 61.60,168.70 Z" stroke-width="1.0"/>
<rect x="62.60" y="179.00" width="6.10" height="2.20" rx="0" stroke-width="1.0" fill="#1c1c1c" stroke="none"/>
<path d="M61.20,184.20 L68.15,184.20 Q68.95,184.20 68.95,185.10 L71.55,185.10 Q71.55,184.20 72.35,184.20 L79.30,184.20 Q80.90,184.20 80.90,185.80 L80.90,193.00 Q80.90,194.60 79.30,194.60 L72.35,194.60 Q71.55,194.60 71.55,193.70 L68.95,193.70 Q68.95,194.60 68.15,194.60 L61.20,194.60 Q59.60,194.60 59.60,193.00 L59.60,185.80 Q59.60,184.20 61.20,184.20 Z" stroke-width="1.0"/>
<rect x="61.90" y="194.40" width="6.30" height="2.20" rx="0" stroke-width="1.0" fill="#1c1c1c" stroke="none"/>
<rect x="43.60" y="121.70" width="10.80" height="41.60" rx="0" stroke-width="1.0" fill="none" />
<rect x="50.80" y="120.40" width="3.60" height="2.00" rx="0" stroke-width="1.0" fill="#1c1c1c" stroke="none"/>
<polyline points="187.60,109.30 187.60,84.30 199.90,84.30 199.90,109.30" fill="none" stroke-width="1.0" />
<rect x="187.10" y="83.20" width="13.30" height="2.00" rx="0" stroke-width="1.0" fill="#1c1c1c" stroke="none"/>
<polyline points="173.80,137.20 173.80,112.30 186.10,112.30 186.10,137.20" fill="none" stroke-width="1.0" />
<rect x="173.30" y="111.30" width="13.30" height="2.00" rx="0" stroke-width="1.0" fill="#1c1c1c" stroke="none"/>
<rect x="201.90" y="78.40" width="2.40" height="10.10" rx="0" stroke-width="1.0" fill="#1c1c1c" stroke="none"/>
<line x1="204.10" y1="79.00" x2="222.00" y2="79.00" stroke-width="1.0" />
<line x1="204.10" y1="87.90" x2="222.00" y2="87.90" stroke-width="1.0" />
<polygon points="228.80,80.60 245.90,80.60 248.30,79.00 258.70,79.00 258.70,89.40 248.30,89.40 245.90,87.40 228.80,87.40" fill="none" stroke-width="1.0" />
<line x1="235.50" y1="83.90" x2="238.30" y2="83.90" stroke-width="0.7" />
<line x1="227.90" y1="93.80" x2="252.60" y2="93.80" stroke-width="0.8" />
<circle cx="219.50" cy="96.80" r="1.1" fill="#1c1c1c" stroke="none"/>
<polygon points="268.60,153.20 278.20,153.20 280.80,155.00 298.00,155.00 298.00,161.50 280.80,161.50 278.20,163.20 268.60,163.20" fill="none" stroke-width="1.0" />
<line x1="286.80" y1="158.20" x2="290.20" y2="158.20" stroke-width="0.8" />
<line x1="288.50" y1="156.60" x2="288.50" y2="159.80" stroke-width="0.8" />
<line x1="227.90" y1="154.80" x2="252.60" y2="154.80" stroke-width="0.8" />
<rect x="251.60" y="160.70" width="0.80" height="0.80" rx="0" stroke-width="1.0" fill="#1c1c1c" stroke="none"/>
<rect x="251.60" y="162.80" width="0.80" height="0.80" rx="0" stroke-width="1.0" fill="#1c1c1c" stroke="none"/>
<rect x="251.60" y="164.90" width="0.80" height="0.80" rx="0" stroke-width="1.0" fill="#1c1c1c" stroke="none"/>
<rect x="251.60" y="167.00" width="0.80" height="0.80" rx="0" stroke-width="1.0" fill="#1c1c1c" stroke="none"/>
<rect x="251.60" y="169.10" width="0.80" height="0.80" rx="0" stroke-width="1.0" fill="#1c1c1c" stroke="none"/>
<polyline points="199.30,138.00 196.50,138.00 196.50,150.80 199.30,150.80" fill="none" stroke-width="1.0" />
<line x1="196.50" y1="144.40" x2="198.20" y2="144.40" stroke-width="0.9" />
<polyline points="205.90,138.00 208.80,138.00 208.80,150.80 205.90,150.80" fill="none" stroke-width="1.0" />
<line x1="208.80" y1="144.40" x2="207.10" y2="144.40" stroke-width="0.9" />
<circle cx="206.00" cy="104.20" r="0.7" fill="#1c1c1c" stroke="none"/>
<circle cx="208.40" cy="104.20" r="0.7" fill="#1c1c1c" stroke="none"/>
<circle cx="201.70" cy="125.00" r="0.7" fill="#1c1c1c" stroke="none"/>
<circle cx="201.70" cy="127.40" r="0.7" fill="#1c1c1c" stroke="none"/>
<circle cx="191.30" cy="133.30" r="0.7" fill="#1c1c1c" stroke="none"/>
<circle cx="191.30" cy="135.70" r="0.7" fill="#1c1c1c" stroke="none"/>
<line x1="270.30" y1="63.10" x2="270.30" y2="70.40" stroke-width="0.9" />
<line x1="277.85" y1="63.00" x2="277.85" y2="70.50" stroke-width="0.85" />
<line x1="279.75" y1="63.00" x2="279.75" y2="70.50" stroke-width="0.85" />
<line x1="288.05" y1="63.00" x2="288.05" y2="70.50" stroke-width="0.85" />
<line x1="289.95" y1="63.00" x2="289.95" y2="70.50" stroke-width="0.85" />
<line x1="298.05" y1="63.00" x2="298.05" y2="70.50" stroke-width="0.85" />
<line x1="299.95" y1="63.00" x2="299.95" y2="70.50" stroke-width="0.85" />
<line x1="307.65" y1="63.00" x2="307.65" y2="70.50" stroke-width="0.85" />
<line x1="309.55" y1="63.00" x2="309.55" y2="70.50" stroke-width="0.85" />
<line x1="317.05" y1="63.00" x2="317.05" y2="70.50" stroke-width="0.85" />
<line x1="318.95" y1="63.00" x2="318.95" y2="70.50" stroke-width="0.85" />
<line x1="327.05" y1="63.00" x2="327.05" y2="70.50" stroke-width="0.85" />
<line x1="328.95" y1="63.00" x2="328.95" y2="70.50" stroke-width="0.85" />
<line x1="336.55" y1="63.00" x2="336.55" y2="70.50" stroke-width="0.85" />
<line x1="338.45" y1="63.00" x2="338.45" y2="70.50" stroke-width="0.85" />
<line x1="346.45" y1="63.00" x2="346.45" y2="70.50" stroke-width="0.85" />
<line x1="348.35" y1="63.00" x2="348.35" y2="70.50" stroke-width="0.85" />
<line x1="356.80" y1="63.10" x2="356.80" y2="70.40" stroke-width="0.9" />
<polyline points="346.50,100.00 346.50,94.40 359.90,94.40" fill="none" stroke-width="1.0" />
<polyline points="346.50,129.60 346.50,136.60 359.90,136.60" fill="none" stroke-width="1.0" />
<rect x="359.90" y="93.00" width="6.10" height="45.00" rx="0" stroke-width="1.0" fill="none" />
<rect x="363.00" y="92.10" width="3.40" height="1.60" rx="0" stroke-width="1.0" fill="#1c1c1c" stroke="none"/>
<rect x="363.00" y="137.30" width="3.40" height="1.40" rx="0" stroke-width="1.0" fill="#1c1c1c" stroke="none"/>
<rect x="275.70" y="95.50" width="27.10" height="12.00" rx="0" stroke-width="1.0" fill="none" />
<circle cx="277.80" cy="93.30" r="0.95" fill="#1c1c1c" stroke="none"/>
<rect x="271.50" y="126.30" width="27.20" height="11.70" rx="0" stroke-width="1.0" fill="none" />
<circle cx="273.60" cy="124.10" r="0.95" fill="#1c1c1c" stroke="none"/>
<rect x="263.80" y="97.00" width="1.40" height="0.80" rx="0" stroke-width="1.0" fill="#1c1c1c" stroke="none"/>
<rect x="263.80" y="99.60" width="1.40" height="0.80" rx="0" stroke-width="1.0" fill="#1c1c1c" stroke="none"/>
<rect x="263.80" y="103.70" width="1.40" height="0.80" rx="0" stroke-width="1.0" fill="#1c1c1c" stroke="none"/>
<rect x="263.80" y="106.50" width="1.40" height="0.80" rx="0" stroke-width="1.0" fill="#1c1c1c" stroke="none"/>
<rect x="263.60" y="127.40" width="1.40" height="0.80" rx="0" stroke-width="1.0" fill="#1c1c1c" stroke="none"/>
<rect x="263.60" y="130.10" width="1.40" height="0.80" rx="0" stroke-width="1.0" fill="#1c1c1c" stroke="none"/>
<rect x="263.60" y="133.70" width="1.40" height="0.80" rx="0" stroke-width="1.0" fill="#1c1c1c" stroke="none"/>
<rect x="263.60" y="136.50" width="1.40" height="0.80" rx="0" stroke-width="1.0" fill="#1c1c1c" stroke="none"/>
<rect x="267.80" y="112.40" width="1.20" height="0.80" rx="0" stroke-width="1.0" fill="#1c1c1c" stroke="none"/>
<rect x="270.60" y="112.40" width="1.20" height="0.80" rx="0" stroke-width="1.0" fill="#1c1c1c" stroke="none"/>
<rect x="266.80" y="146.40" width="1.20" height="0.80" rx="0" stroke-width="1.0" fill="#1c1c1c" stroke="none"/>
<rect x="269.40" y="146.40" width="1.20" height="0.80" rx="0" stroke-width="1.0" fill="#1c1c1c" stroke="none"/>
<line x1="162.00" y1="178.10" x2="162.00" y2="203.70" stroke-width="0.9" />
<polyline points="186.60,175.30 217.10,175.30 217.10,180.20" fill="none" stroke-width="1.0" />
<polyline points="217.10,194.10 217.10,200.70 186.60,200.70" fill="none" stroke-width="1.0" />
<line x1="186.60" y1="174.80" x2="186.60" y2="201.20" stroke-width="1.0" />
<line x1="185.10" y1="177.50" x2="185.10" y2="203.70" stroke-width="1.0" />
<rect x="225.30" y="210.70" width="23.10" height="26.10" rx="0" stroke-width="0.9" fill="none" />
<rect x="247.80" y="221.50" width="1.40" height="4.50" rx="0" stroke-width="1.0" fill="#1c1c1c" stroke="none"/>
<rect x="284.80" y="257.10" width="34.60" height="68.40" rx="0" stroke-width="1.0" fill="none" />
<line x1="273.70" y1="259.80" x2="281.70" y2="259.80" stroke-width="1.1" />
<line x1="323.60" y1="259.80" x2="331.50" y2="259.80" stroke-width="1.1" />
<line x1="273.70" y1="262.41" x2="281.70" y2="262.41" stroke-width="1.1" />
<line x1="323.60" y1="262.41" x2="331.50" y2="262.41" stroke-width="1.1" />
<line x1="273.70" y1="265.03" x2="281.70" y2="265.03" stroke-width="1.1" />
<line x1="323.60" y1="265.03" x2="331.50" y2="265.03" stroke-width="1.1" />
<line x1="273.70" y1="267.64" x2="281.70" y2="267.64" stroke-width="1.1" />
<line x1="323.60" y1="267.64" x2="331.50" y2="267.64" stroke-width="1.1" />
<line x1="273.70" y1="270.25" x2="281.70" y2="270.25" stroke-width="1.1" />
<line x1="323.60" y1="270.25" x2="331.50" y2="270.25" stroke-width="1.1" />
<line x1="273.70" y1="272.87" x2="281.70" y2="272.87" stroke-width="1.1" />
<line x1="323.60" y1="272.87" x2="331.50" y2="272.87" stroke-width="1.1" />
<line x1="273.70" y1="275.48" x2="281.70" y2="275.48" stroke-width="1.1" />
<line x1="323.60" y1="275.48" x2="331.50" y2="275.48" stroke-width="1.1" />
<line x1="273.70" y1="278.09" x2="281.70" y2="278.09" stroke-width="1.1" />
<line x1="323.60" y1="278.09" x2="331.50" y2="278.09" stroke-width="1.1" />
<line x1="273.70" y1="280.70" x2="281.70" y2="280.70" stroke-width="1.1" />
<line x1="323.60" y1="280.70" x2="331.50" y2="280.70" stroke-width="1.1" />
<line x1="273.70" y1="283.32" x2="281.70" y2="283.32" stroke-width="1.1" />
<line x1="323.60" y1="283.32" x2="331.50" y2="283.32" stroke-width="1.1" />
<line x1="273.70" y1="285.93" x2="281.70" y2="285.93" stroke-width="1.1" />
<line x1="323.60" y1="285.93" x2="331.50" y2="285.93" stroke-width="1.1" />
<line x1="273.70" y1="288.54" x2="281.70" y2="288.54" stroke-width="1.1" />
<line x1="323.60" y1="288.54" x2="331.50" y2="288.54" stroke-width="1.1" />
<line x1="273.70" y1="293.77" x2="281.70" y2="293.77" stroke-width="1.1" />
<line x1="323.60" y1="293.77" x2="331.50" y2="293.77" stroke-width="1.1" />
<line x1="273.70" y1="296.38" x2="281.70" y2="296.38" stroke-width="1.1" />
<line x1="323.60" y1="296.38" x2="331.50" y2="296.38" stroke-width="1.1" />
<line x1="273.70" y1="299.00" x2="281.70" y2="299.00" stroke-width="1.1" />
<line x1="323.60" y1="299.00" x2="331.50" y2="299.00" stroke-width="1.1" />
<line x1="273.70" y1="301.61" x2="281.70" y2="301.61" stroke-width="1.1" />
<line x1="323.60" y1="301.61" x2="331.50" y2="301.61" stroke-width="1.1" />
<line x1="273.70" y1="304.22" x2="281.70" y2="304.22" stroke-width="1.1" />
<line x1="323.60" y1="304.22" x2="331.50" y2="304.22" stroke-width="1.1" />
<line x1="273.70" y1="306.83" x2="281.70" y2="306.83" stroke-width="1.1" />
<line x1="323.60" y1="306.83" x2="331.50" y2="306.83" stroke-width="1.1" />
<line x1="273.70" y1="309.45" x2="281.70" y2="309.45" stroke-width="1.1" />
<line x1="323.60" y1="309.45" x2="331.50" y2="309.45" stroke-width="1.1" />
<line x1="273.70" y1="312.06" x2="281.70" y2="312.06" stroke-width="1.1" />
<line x1="323.60" y1="312.06" x2="331.50" y2="312.06" stroke-width="1.1" />
<line x1="273.70" y1="314.67" x2="281.70" y2="314.67" stroke-width="1.1" />
<line x1="323.60" y1="314.67" x2="331.50" y2="314.67" stroke-width="1.1" />
<line x1="273.70" y1="317.29" x2="281.70" y2="317.29" stroke-width="1.1" />
<line x1="323.60" y1="317.29" x2="331.50" y2="317.29" stroke-width="1.1" />
<line x1="273.70" y1="319.90" x2="281.70" y2="319.90" stroke-width="1.1" />
<line x1="323.60" y1="319.90" x2="331.50" y2="319.90" stroke-width="1.1" />
<line x1="273.70" y1="322.51" x2="281.70" y2="322.51" stroke-width="1.1" />
<line x1="323.60" y1="322.51" x2="331.50" y2="322.51" stroke-width="1.1" />
<line x1="69.50" y1="259.60" x2="89.00" y2="280.20" stroke-width="1.0" />
<line x1="90.00" y1="259.80" x2="69.70" y2="280.20" stroke-width="1.0" />
<polygon points="75.10,264.70 84.50,264.70 82.90,278.10 76.70,278.10" fill="none" stroke-width="0.9" />
<path d="M74.10,264.10 q5.7,-4.2 11.4,0" stroke-width="1.1"/>
<line x1="74.10" y1="264.30" x2="85.50" y2="264.30" stroke-width="0.9" />
<circle cx="83.40" cy="277.10" r="0.90" stroke-width="0.8"/>
<line x1="78.00" y1="267.70" x2="82.00" y2="267.70" stroke-width="0.8" />
<rect x="71.20" y="284.60" width="16.20" height="4.30" rx="0" stroke-width="1.0" fill="#000" stroke="none"/>
<path d="M76.41,313.34 A8.75,8.75 0 1 1 76.41,295.86" stroke-width="3.5" stroke="#000"/>
<path d="M94.21,313.34 A8.75,8.75 0 1 1 94.21,295.86" stroke-width="3.5" stroke="#000"/>
<line x1="86.10" y1="304.60" x2="92.50" y2="304.60" stroke-width="3.1" stroke="#000"/>
<path d="M113.61,294.90 L118.14,294.90 L118.14,298.67 L119.54,298.67 L120.03,299.61 L120.78,298.67 L122.48,298.67 L122.48,298.48 L126.25,298.48 L126.25,302.44 L127.39,303.58 L127.08,306.22 L123.24,308.10 L122.10,310.37 L122.18,313.39 L120.59,313.39 L117.95,311.88 L116.44,309.24 L115.39,307.35 L113.88,306.52 L112.37,307.80 L111.16,307.35 L110.03,304.33 L108.44,302.82 L108.44,301.69 L113.61,301.69 Z" fill="#111" stroke="#111" stroke-width="0.5" stroke-linejoin="round"/>
<circle cx="121.16" cy="296.59" r="1.05" fill="#111" stroke="none"/>
<ellipse cx="118.14" cy="302.18" rx="0.85" ry="1.6" fill="#fff" stroke="none"/>
<ellipse cx="122.41" cy="301.76" rx="0.7" ry="1.45" fill="#fff" stroke="none"/>
<path d="M117.76,306.59 Q119.84,308.93 122.03,307.05" stroke="#fff" stroke-width="1.25" fill="none"/>
<text x="130.10" y="306.10" class="ti" textLength="28.6" lengthAdjust="spacingAndGlyphs"><tspan font-size="11.1">T</tspan><tspan font-size="8.9">EXAS</tspan></text>
<text x="132.50" y="315.30" class="ti" textLength="63.0" lengthAdjust="spacingAndGlyphs"><tspan font-size="11.1">I</tspan><tspan font-size="8.9">NSTRUMENTS</tspan></text>
<text x="67.40" y="332.60" class="fcc" textLength="131.2" lengthAdjust="spacingAndGlyphs">For evaluation only; not FCC approved for resale.</text>
<polygon points="432.10,216.50 477.50,294.75 386.80,294.75" fill="none" stroke-width="4.3" stroke-linejoin="round" stroke="#111"/>
<polygon points="429.90,243.70 435.60,243.70 424.80,265.60 439.90,260.90 432.00,280.30 434.60,279.80 428.80,286.50 427.10,278.50 430.40,279.60 433.80,266.20 418.60,270.50" fill="#111" stroke="none" />
<text x="384.30" y="307.30" textLength="115.90" lengthAdjust="spacingAndGlyphs">DANGER HIGH VOLTAGE</text>
</g>
<text class="cap" x="253.6" y="785.9" textLength="205.4" lengthAdjust="spacingAndGlyphs">Top Overlay (TPS7H6015EVM)</text>
<g class="brd" transform="translate(91.1,806.6)">
<rect x="0" y="0" width="535.4" height="354.2" stroke-width="1.1"/>
<text x="116.70" y="16.30" textLength="61.00" lengthAdjust="spacingAndGlyphs">0-14 V VIN</text>
<text x="93.00" y="54.80" textLength="36.60" lengthAdjust="spacingAndGlyphs">PWM_LI</text>
<text x="9.40" y="59.80" textLength="18.30" lengthAdjust="spacingAndGlyphs">J15</text>
<text x="9.40" y="72.30" textLength="36.60" lengthAdjust="spacingAndGlyphs">INPUT2</text>
<text x="84.60" y="100.40" textLength="36.60" lengthAdjust="spacingAndGlyphs">INPUT2</text>
<text x="43.30" y="117.20" textLength="12.20" lengthAdjust="spacingAndGlyphs">J9</text>
<text x="84.60" y="115.20" textLength="36.60" lengthAdjust="spacingAndGlyphs">INPUT1</text>
<text x="85.10" y="129.80" textLength="30.50" lengthAdjust="spacingAndGlyphs">J9TOP</text>
<text x="123.00" y="145.10" textLength="42.70" lengthAdjust="spacingAndGlyphs">VINBOOT</text>
<text x="83.30" y="161.80" textLength="30.50" lengthAdjust="spacingAndGlyphs">J9BOT</text>
<text x="84.60" y="178.20" textLength="36.60" lengthAdjust="spacingAndGlyphs">INPUT1</text>
<text x="84.20" y="193.60" textLength="24.40" lengthAdjust="spacingAndGlyphs">BP5L</text>
<text transform="translate(133.00,197.00) rotate(-90)" textLength="24.40" lengthAdjust="spacingAndGlyphs">DVIN</text>
<text transform="translate(152.60,185.10) rotate(90)" textLength="15.60" lengthAdjust="spacingAndGlyphs">C11</text>
<text x="13.10" y="209.60" textLength="12.20" lengthAdjust="spacingAndGlyphs">J6</text>
<text x="9.90" y="219.90" textLength="36.60" lengthAdjust="spacingAndGlyphs">INPUT1</text>
<text x="86.80" y="247.10" textLength="30.50" lengthAdjust="spacingAndGlyphs">EN_HI</text>
<text x="134.90" y="257.80" textLength="12.20" lengthAdjust="spacingAndGlyphs">J2</text>
<text x="127.90" y="269.00" textLength="18.30" lengthAdjust="spacingAndGlyphs">GND</text>
<text x="183.90" y="46.80" textLength="12.20" lengthAdjust="spacingAndGlyphs">J1</text>
<text x="192.60" y="58.20" textLength="24.40" lengthAdjust="spacingAndGlyphs">PVIN</text>
<text x="235.80" y="45.70" textLength="18.30" lengthAdjust="spacingAndGlyphs">GND</text>
<text x="161.90" y="79.40" textLength="24.40" lengthAdjust="spacingAndGlyphs">BOOT</text>
<text x="228.30" y="76.00" textLength="12.20" lengthAdjust="spacingAndGlyphs">HO</text>
<text x="374.30" y="63.20" textLength="24.40" lengthAdjust="spacingAndGlyphs">PVIN</text>
<text x="389.50" y="85.60" textLength="12.20" lengthAdjust="spacingAndGlyphs">SW</text>
<text x="345.90" y="89.70" textLength="12.20" lengthAdjust="spacingAndGlyphs">D4</text>
<text x="384.30" y="143.60" textLength="18.30" lengthAdjust="spacingAndGlyphs">J13</text>
<text x="281.70" y="171.90" textLength="12.20" lengthAdjust="spacingAndGlyphs">LO</text>
<text x="243.80" y="181.30" textLength="12.20" lengthAdjust="spacingAndGlyphs">R6</text>
<text x="243.80" y="191.90" textLength="12.20" lengthAdjust="spacingAndGlyphs">R5</text>
<text x="261.70" y="194.50" textLength="24.40" lengthAdjust="spacingAndGlyphs">BP5L</text>
<text x="261.70" y="216.30" textLength="24.40" lengthAdjust="spacingAndGlyphs">BP5H</text>
<text x="298.20" y="196.90" textLength="67.10" lengthAdjust="spacingAndGlyphs">0-22 V VOUT</text>
<text transform="translate(226.10,193.00) rotate(-90)" textLength="18.30" lengthAdjust="spacingAndGlyphs">C10</text>
<text x="199.40" y="240.50" textLength="24.40" lengthAdjust="spacingAndGlyphs">DVIN</text>
<text x="230.40" y="247.80" textLength="12.20" lengthAdjust="spacingAndGlyphs">J5</text>
<text x="250.80" y="239.70" textLength="18.30" lengthAdjust="spacingAndGlyphs">GND</text>
<text x="291.20" y="231.50" textLength="18.30" lengthAdjust="spacingAndGlyphs">GND</text>
<text x="384.30" y="209.00" textLength="18.30" lengthAdjust="spacingAndGlyphs">GND</text>
<text x="383.30" y="219.30" textLength="18.30" lengthAdjust="spacingAndGlyphs">J16</text>
<text x="270.70" y="255.30" textLength="12.20" lengthAdjust="spacingAndGlyphs">D2</text>
<text x="296.20" y="278.40" textLength="12.20" lengthAdjust="spacingAndGlyphs">U1</text>
<text transform="translate(253.10,262.10) rotate(90)" textLength="12.20" lengthAdjust="spacingAndGlyphs">D3</text>
<text transform="translate(263.80,262.10) rotate(90)" textLength="18.30" lengthAdjust="spacingAndGlyphs">C14</text>
<text transform="translate(241.90,290.10) rotate(90)" textLength="10.60" lengthAdjust="spacingAndGlyphs">D1</text>
<text x="258.00" y="298.90" textLength="12.20" lengthAdjust="spacingAndGlyphs">R7</text>
<text x="242.50" y="308.90" textLength="12.20" lengthAdjust="spacingAndGlyphs">R1</text>
<text x="258.70" y="314.40" textLength="12.20" lengthAdjust="spacingAndGlyphs">R8</text>
<text x="258.70" y="325.10" textLength="12.20" lengthAdjust="spacingAndGlyphs">R9</text>
<text x="255.00" y="344.50" textLength="73.20" lengthAdjust="spacingAndGlyphs">TPS7H6025EVM</text>
<text x="332.60" y="266.40" textLength="12.20" lengthAdjust="spacingAndGlyphs">R3</text>
<text x="332.60" y="276.90" textLength="12.20" lengthAdjust="spacingAndGlyphs">R2</text>
<text x="356.40" y="280.00" textLength="12.20" lengthAdjust="spacingAndGlyphs">Q1</text>
<text transform="translate(335.00,277.80) rotate(90)" textLength="18.30" lengthAdjust="spacingAndGlyphs">C13</text>
<text transform="translate(344.50,277.10) rotate(90)" textLength="18.30" lengthAdjust="spacingAndGlyphs">R12</text>
<text x="333.90" y="305.10" textLength="18.30" lengthAdjust="spacingAndGlyphs">R11</text>
<text x="354.30" y="310.70" textLength="12.20" lengthAdjust="spacingAndGlyphs">Q2</text>
<text x="333.90" y="315.10" textLength="18.30" lengthAdjust="spacingAndGlyphs">R10</text>
<text transform="translate(335.00,317.00) rotate(90)" textLength="18.30" lengthAdjust="spacingAndGlyphs">C15</text>
<text transform="translate(344.50,316.50) rotate(90)" textLength="18.30" lengthAdjust="spacingAndGlyphs">R13</text>
<text transform="translate(272.00,24.90) rotate(90)" textLength="11.60" lengthAdjust="spacingAndGlyphs">C1</text>
<text transform="translate(281.10,25.90) rotate(90)" textLength="11.60" lengthAdjust="spacingAndGlyphs">C8</text>
<text transform="translate(290.90,25.90) rotate(90)" textLength="11.60" lengthAdjust="spacingAndGlyphs">C4</text>
<text transform="translate(300.10,24.90) rotate(90)" textLength="11.60" lengthAdjust="spacingAndGlyphs">C5</text>
<text transform="translate(309.10,23.50) rotate(90)" textLength="11.60" lengthAdjust="spacingAndGlyphs">C3</text>
<text transform="translate(319.30,23.50) rotate(90)" textLength="11.60" lengthAdjust="spacingAndGlyphs">C2</text>
<text transform="translate(331.20,25.90) rotate(90)" textLength="11.60" lengthAdjust="spacingAndGlyphs">C7</text>
<text transform="translate(339.90,25.90) rotate(90)" textLength="11.60" lengthAdjust="spacingAndGlyphs">C6</text>
<text transform="translate(349.70,25.90) rotate(90)" textLength="11.60" lengthAdjust="spacingAndGlyphs">C9</text>
<circle cx="213.30" cy="26.35" r="21.40" stroke-width="1.05"/>
<circle cx="170.25" cy="253.30" r="21.45" stroke-width="1.05"/>
<circle cx="394.50" cy="110.10" r="21.40" stroke-width="1.05"/>
<circle cx="393.25" cy="175.10" r="21.40" stroke-width="1.05"/>
<circle cx="260.60" cy="40.40" r="5.30" stroke-width="1.05"/>
<circle cx="178.20" cy="90.40" r="5.30" stroke-width="1.05"/>
<circle cx="164.80" cy="129.30" r="5.30" stroke-width="1.05"/>
<circle cx="365.60" cy="70.50" r="5.30" stroke-width="1.05"/>
<circle cx="144.80" cy="178.90" r="5.30" stroke-width="1.05"/>
<circle cx="267.30" cy="178.90" r="5.30" stroke-width="1.05"/>
<circle cx="267.30" cy="200.60" r="5.30" stroke-width="1.05"/>
<circle cx="256.70" cy="224.20" r="5.30" stroke-width="1.05"/>
<circle cx="318.00" cy="227.30" r="5.30" stroke-width="1.05"/>
<g transform="translate(76.85,62.80)">
<rect x="-7.21" y="-7.21" width="14.42" height="14.42" rx="2.6" transform="rotate(45)" stroke-width="1.3"/>
<line x1="2.6" y1="7.4" x2="7.4" y2="2.6" stroke-width="1.7"/>
<line x1="-6.30" y1="-9.35" x2="-4.10" y2="-7.30" stroke-width="1.15"/>
<line x1="-10.20" y1="-5.60" x2="-7.90" y2="-3.60" stroke-width="1.15"/>
<line x1="-6.30" y1="9.35" x2="-4.10" y2="7.30" stroke-width="1.15"/>
<line x1="-10.20" y1="5.60" x2="-7.90" y2="3.60" stroke-width="1.15"/>
<line x1="6.30" y1="-9.35" x2="4.10" y2="-7.30" stroke-width="1.15"/>
<line x1="10.20" y1="-5.60" x2="7.90" y2="-3.60" stroke-width="1.15"/>
<line x1="6.30" y1="9.35" x2="4.10" y2="7.30" stroke-width="1.15"/>
<line x1="10.20" y1="5.60" x2="7.90" y2="3.60" stroke-width="1.15"/>
</g>
<g transform="translate(75.60,225.60)">
<rect x="-7.21" y="-7.21" width="14.42" height="14.42" rx="2.6" transform="rotate(45)" stroke-width="1.3"/>
<line x1="2.6" y1="7.4" x2="7.4" y2="2.6" stroke-width="1.7"/>
<line x1="-6.30" y1="-9.35" x2="-4.10" y2="-7.30" stroke-width="1.15"/>
<line x1="-10.20" y1="-5.60" x2="-7.90" y2="-3.60" stroke-width="1.15"/>
<line x1="-6.30" y1="9.35" x2="-4.10" y2="7.30" stroke-width="1.15"/>
<line x1="-10.20" y1="5.60" x2="-7.90" y2="3.60" stroke-width="1.15"/>
<line x1="6.30" y1="-9.35" x2="4.10" y2="-7.30" stroke-width="1.15"/>
<line x1="10.20" y1="-5.60" x2="7.90" y2="-3.60" stroke-width="1.15"/>
<line x1="6.30" y1="9.35" x2="4.10" y2="7.30" stroke-width="1.15"/>
<line x1="10.20" y1="5.60" x2="7.90" y2="3.60" stroke-width="1.15"/>
</g>
<path d="M62.20,91.70 L69.10,91.70 Q69.90,91.70 69.90,92.60 L72.50,92.60 Q72.50,91.70 73.30,91.70 L80.20,91.70 Q81.80,91.70 81.80,93.30 L81.80,100.50 Q81.80,102.10 80.20,102.10 L73.30,102.10 Q72.50,102.10 72.50,101.20 L69.90,101.20 Q69.90,102.10 69.10,102.10 L62.20,102.10 Q60.60,102.10 60.60,100.50 L60.60,93.30 Q60.60,91.70 62.20,91.70 Z" stroke-width="1.0"/>
<rect x="63.50" y="101.90" width="5.60" height="2.30" rx="0" stroke-width="1.0" fill="#1c1c1c" stroke="none"/>
<path d="M61.80,106.10 L68.55,106.10 Q69.35,106.10 69.35,107.00 L71.95,107.00 Q71.95,106.10 72.75,106.10 L79.50,106.10 Q81.10,106.10 81.10,107.70 L81.10,114.90 Q81.10,116.50 79.50,116.50 L72.75,116.50 Q71.95,116.50 71.95,115.60 L69.35,115.60 Q69.35,116.50 68.55,116.50 L61.80,116.50 Q60.20,116.50 60.20,114.90 L60.20,107.70 Q60.20,106.10 61.80,106.10 Z" stroke-width="1.0"/>
<rect x="63.00" y="116.30" width="5.70" height="2.00" rx="0" stroke-width="1.0" fill="#1c1c1c" stroke="none"/>
<path d="M61.60,121.30 L68.55,121.30 Q69.35,121.30 69.35,122.20 L71.95,122.20 Q71.95,121.30 72.75,121.30 L79.70,121.30 Q81.30,121.30 81.30,122.90 L81.30,130.20 Q81.30,131.80 79.70,131.80 L72.75,131.80 Q71.95,131.80 71.95,130.90 L69.35,130.90 Q69.35,131.80 68.55,131.80 L61.60,131.80 Q60.00,131.80 60.00,130.20 L60.00,122.90 Q60.00,121.30 61.60,121.30 Z" stroke-width="1.0"/>
<rect x="73.00" y="119.90" width="5.90" height="1.80" rx="0" stroke-width="1.0" fill="#1c1c1c" stroke="none"/>
<path d="M62.20,153.10 L69.10,153.10 Q69.90,153.10 69.90,154.00 L72.50,154.00 Q72.50,153.10 73.30,153.10 L80.20,153.10 Q81.80,153.10 81.80,154.70 L81.80,161.90 Q81.80,163.50 80.20,163.50 L73.30,163.50 Q72.50,163.50 72.50,162.60 L69.90,162.60 Q69.90,163.50 69.10,163.50 L62.20,163.50 Q60.60,163.50 60.60,161.90 L60.60,154.70 Q60.60,153.10 62.20,153.10 Z" stroke-width="1.0"/>
<rect x="63.50" y="163.30" width="5.60" height="2.00" rx="0" stroke-width="1.0" fill="#1c1c1c" stroke="none"/>
<path d="M61.60,168.70 L68.55,168.70 Q69.35,168.70 69.35,169.60 L71.95,169.60 Q71.95,168.70 72.75,168.70 L79.70,168.70 Q81.30,168.70 81.30,170.30 L81.30,177.60 Q81.30,179.20 79.70,179.20 L72.75,179.20 Q71.95,179.20 71.95,178.30 L69.35,178.30 Q69.35,179.20 68.55,179.20 L61.60,179.20 Q60.00,179.20 60.00,177.60 L60.00,170.30 Q60.00,168.70 61.60,168.70 Z" stroke-width="1.0"/>
<rect x="62.60" y="179.00" width="6.10" height="2.20" rx="0" stroke-width="1.0" fill="#1c1c1c" stroke="none"/>
<path d="M61.20,184.20 L68.15,184.20 Q68.95,184.20 68.95,185.10 L71.55,185.10 Q71.55,184.20 72.35,184.20 L79.30,184.20 Q80.90,184.20 80.90,185.80 L80.90,193.00 Q80.90,194.60 79.30,194.60 L72.35,194.60 Q71.55,194.60 71.55,193.70 L68.95,193.70 Q68.95,194.60 68.15,194.60 L61.20,194.60 Q59.60,194.60 59.60,193.00 L59.60,185.80 Q59.60,184.20 61.20,184.20 Z" stroke-width="1.0"/>
<rect x="61.90" y="194.40" width="6.30" height="2.20" rx="0" stroke-width="1.0" fill="#1c1c1c" stroke="none"/>
<rect x="43.60" y="121.70" width="10.80" height="41.60" rx="0" stroke-width="1.0" fill="none" />
<rect x="50.80" y="120.40" width="3.60" height="2.00" rx="0" stroke-width="1.0" fill="#1c1c1c" stroke="none"/>
<polyline points="187.60,109.30 187.60,84.30 199.90,84.30 199.90,109.30" fill="none" stroke-width="1.0" />
<rect x="187.10" y="83.20" width="13.30" height="2.00" rx="0" stroke-width="1.0" fill="#1c1c1c" stroke="none"/>
<polyline points="173.80,137.20 173.80,112.30 186.10,112.30 186.10,137.20" fill="none" stroke-width="1.0" />
<rect x="173.30" y="111.30" width="13.30" height="2.00" rx="0" stroke-width="1.0" fill="#1c1c1c" stroke="none"/>
<rect x="201.90" y="78.40" width="2.40" height="10.10" rx="0" stroke-width="1.0" fill="#1c1c1c" stroke="none"/>
<line x1="204.10" y1="79.00" x2="222.00" y2="79.00" stroke-width="1.0" />
<line x1="204.10" y1="87.90" x2="222.00" y2="87.90" stroke-width="1.0" />
<polygon points="228.80,80.60 245.90,80.60 248.30,79.00 258.70,79.00 258.70,89.40 248.30,89.40 245.90,87.40 228.80,87.40" fill="none" stroke-width="1.0" />
<line x1="235.50" y1="83.90" x2="238.30" y2="83.90" stroke-width="0.7" />
<line x1="227.90" y1="93.80" x2="252.60" y2="93.80" stroke-width="0.8" />
<circle cx="219.50" cy="96.80" r="1.1" fill="#1c1c1c" stroke="none"/>
<polygon points="268.60,153.20 278.20,153.20 280.80,155.00 298.00,155.00 298.00,161.50 280.80,161.50 278.20,163.20 268.60,163.20" fill="none" stroke-width="1.0" />
<line x1="286.80" y1="158.20" x2="290.20" y2="158.20" stroke-width="0.8" />
<line x1="288.50" y1="156.60" x2="288.50" y2="159.80" stroke-width="0.8" />
<line x1="227.90" y1="154.80" x2="252.60" y2="154.80" stroke-width="0.8" />
<rect x="251.60" y="160.70" width="0.80" height="0.80" rx="0" stroke-width="1.0" fill="#1c1c1c" stroke="none"/>
<rect x="251.60" y="162.80" width="0.80" height="0.80" rx="0" stroke-width="1.0" fill="#1c1c1c" stroke="none"/>
<rect x="251.60" y="164.90" width="0.80" height="0.80" rx="0" stroke-width="1.0" fill="#1c1c1c" stroke="none"/>
<rect x="251.60" y="167.00" width="0.80" height="0.80" rx="0" stroke-width="1.0" fill="#1c1c1c" stroke="none"/>
<rect x="251.60" y="169.10" width="0.80" height="0.80" rx="0" stroke-width="1.0" fill="#1c1c1c" stroke="none"/>
<polyline points="199.30,138.00 196.50,138.00 196.50,150.80 199.30,150.80" fill="none" stroke-width="1.0" />
<line x1="196.50" y1="144.40" x2="198.20" y2="144.40" stroke-width="0.9" />
<polyline points="205.90,138.00 208.80,138.00 208.80,150.80 205.90,150.80" fill="none" stroke-width="1.0" />
<line x1="208.80" y1="144.40" x2="207.10" y2="144.40" stroke-width="0.9" />
<circle cx="206.00" cy="104.20" r="0.7" fill="#1c1c1c" stroke="none"/>
<circle cx="208.40" cy="104.20" r="0.7" fill="#1c1c1c" stroke="none"/>
<circle cx="201.70" cy="125.00" r="0.7" fill="#1c1c1c" stroke="none"/>
<circle cx="201.70" cy="127.40" r="0.7" fill="#1c1c1c" stroke="none"/>
<circle cx="191.30" cy="133.30" r="0.7" fill="#1c1c1c" stroke="none"/>
<circle cx="191.30" cy="135.70" r="0.7" fill="#1c1c1c" stroke="none"/>
<line x1="270.30" y1="63.10" x2="270.30" y2="70.40" stroke-width="0.9" />
<line x1="277.85" y1="63.00" x2="277.85" y2="70.50" stroke-width="0.85" />
<line x1="279.75" y1="63.00" x2="279.75" y2="70.50" stroke-width="0.85" />
<line x1="288.05" y1="63.00" x2="288.05" y2="70.50" stroke-width="0.85" />
<line x1="289.95" y1="63.00" x2="289.95" y2="70.50" stroke-width="0.85" />
<line x1="298.05" y1="63.00" x2="298.05" y2="70.50" stroke-width="0.85" />
<line x1="299.95" y1="63.00" x2="299.95" y2="70.50" stroke-width="0.85" />
<line x1="307.65" y1="63.00" x2="307.65" y2="70.50" stroke-width="0.85" />
<line x1="309.55" y1="63.00" x2="309.55" y2="70.50" stroke-width="0.85" />
<line x1="317.05" y1="63.00" x2="317.05" y2="70.50" stroke-width="0.85" />
<line x1="318.95" y1="63.00" x2="318.95" y2="70.50" stroke-width="0.85" />
<line x1="327.05" y1="63.00" x2="327.05" y2="70.50" stroke-width="0.85" />
<line x1="328.95" y1="63.00" x2="328.95" y2="70.50" stroke-width="0.85" />
<line x1="336.55" y1="63.00" x2="336.55" y2="70.50" stroke-width="0.85" />
<line x1="338.45" y1="63.00" x2="338.45" y2="70.50" stroke-width="0.85" />
<line x1="346.45" y1="63.00" x2="346.45" y2="70.50" stroke-width="0.85" />
<line x1="348.35" y1="63.00" x2="348.35" y2="70.50" stroke-width="0.85" />
<line x1="356.80" y1="63.10" x2="356.80" y2="70.40" stroke-width="0.9" />
<polyline points="346.50,100.00 346.50,94.40 359.90,94.40" fill="none" stroke-width="1.0" />
<polyline points="346.50,129.60 346.50,136.60 359.90,136.60" fill="none" stroke-width="1.0" />
<rect x="359.90" y="93.00" width="6.10" height="45.00" rx="0" stroke-width="1.0" fill="none" />
<rect x="363.00" y="92.10" width="3.40" height="1.60" rx="0" stroke-width="1.0" fill="#1c1c1c" stroke="none"/>
<rect x="363.00" y="137.30" width="3.40" height="1.40" rx="0" stroke-width="1.0" fill="#1c1c1c" stroke="none"/>
<rect x="275.70" y="95.50" width="27.10" height="12.00" rx="0" stroke-width="1.0" fill="none" />
<circle cx="277.80" cy="93.30" r="0.95" fill="#1c1c1c" stroke="none"/>
<rect x="271.50" y="126.30" width="27.20" height="11.70" rx="0" stroke-width="1.0" fill="none" />
<circle cx="273.60" cy="124.10" r="0.95" fill="#1c1c1c" stroke="none"/>
<rect x="263.80" y="97.00" width="1.40" height="0.80" rx="0" stroke-width="1.0" fill="#1c1c1c" stroke="none"/>
<rect x="263.80" y="99.60" width="1.40" height="0.80" rx="0" stroke-width="1.0" fill="#1c1c1c" stroke="none"/>
<rect x="263.80" y="103.70" width="1.40" height="0.80" rx="0" stroke-width="1.0" fill="#1c1c1c" stroke="none"/>
<rect x="263.80" y="106.50" width="1.40" height="0.80" rx="0" stroke-width="1.0" fill="#1c1c1c" stroke="none"/>
<rect x="263.60" y="127.40" width="1.40" height="0.80" rx="0" stroke-width="1.0" fill="#1c1c1c" stroke="none"/>
<rect x="263.60" y="130.10" width="1.40" height="0.80" rx="0" stroke-width="1.0" fill="#1c1c1c" stroke="none"/>
<rect x="263.60" y="133.70" width="1.40" height="0.80" rx="0" stroke-width="1.0" fill="#1c1c1c" stroke="none"/>
<rect x="263.60" y="136.50" width="1.40" height="0.80" rx="0" stroke-width="1.0" fill="#1c1c1c" stroke="none"/>
<rect x="267.80" y="112.40" width="1.20" height="0.80" rx="0" stroke-width="1.0" fill="#1c1c1c" stroke="none"/>
<rect x="270.60" y="112.40" width="1.20" height="0.80" rx="0" stroke-width="1.0" fill="#1c1c1c" stroke="none"/>
<rect x="266.80" y="146.40" width="1.20" height="0.80" rx="0" stroke-width="1.0" fill="#1c1c1c" stroke="none"/>
<rect x="269.40" y="146.40" width="1.20" height="0.80" rx="0" stroke-width="1.0" fill="#1c1c1c" stroke="none"/>
<line x1="162.00" y1="178.10" x2="162.00" y2="203.70" stroke-width="0.9" />
<polyline points="186.60,175.30 217.10,175.30 217.10,180.20" fill="none" stroke-width="1.0" />
<polyline points="217.10,194.10 217.10,200.70 186.60,200.70" fill="none" stroke-width="1.0" />
<line x1="186.60" y1="174.80" x2="186.60" y2="201.20" stroke-width="1.0" />
<line x1="185.10" y1="177.50" x2="185.10" y2="203.70" stroke-width="1.0" />
<rect x="225.30" y="210.70" width="23.10" height="26.10" rx="0" stroke-width="0.9" fill="none" />
<rect x="247.80" y="221.50" width="1.40" height="4.50" rx="0" stroke-width="1.0" fill="#1c1c1c" stroke="none"/>
<rect x="284.80" y="257.10" width="34.60" height="68.40" rx="0" stroke-width="1.0" fill="none" />
<line x1="273.70" y1="259.80" x2="281.70" y2="259.80" stroke-width="1.1" />
<line x1="323.60" y1="259.80" x2="331.50" y2="259.80" stroke-width="1.1" />
<line x1="273.70" y1="262.41" x2="281.70" y2="262.41" stroke-width="1.1" />
<line x1="323.60" y1="262.41" x2="331.50" y2="262.41" stroke-width="1.1" />
<line x1="273.70" y1="265.03" x2="281.70" y2="265.03" stroke-width="1.1" />
<line x1="323.60" y1="265.03" x2="331.50" y2="265.03" stroke-width="1.1" />
<line x1="273.70" y1="267.64" x2="281.70" y2="267.64" stroke-width="1.1" />
<line x1="323.60" y1="267.64" x2="331.50" y2="267.64" stroke-width="1.1" />
<line x1="273.70" y1="270.25" x2="281.70" y2="270.25" stroke-width="1.1" />
<line x1="323.60" y1="270.25" x2="331.50" y2="270.25" stroke-width="1.1" />
<line x1="273.70" y1="272.87" x2="281.70" y2="272.87" stroke-width="1.1" />
<line x1="323.60" y1="272.87" x2="331.50" y2="272.87" stroke-width="1.1" />
<line x1="273.70" y1="275.48" x2="281.70" y2="275.48" stroke-width="1.1" />
<line x1="323.60" y1="275.48" x2="331.50" y2="275.48" stroke-width="1.1" />
<line x1="273.70" y1="278.09" x2="281.70" y2="278.09" stroke-width="1.1" />
<line x1="323.60" y1="278.09" x2="331.50" y2="278.09" stroke-width="1.1" />
<line x1="273.70" y1="280.70" x2="281.70" y2="280.70" stroke-width="1.1" />
<line x1="323.60" y1="280.70" x2="331.50" y2="280.70" stroke-width="1.1" />
<line x1="273.70" y1="283.32" x2="281.70" y2="283.32" stroke-width="1.1" />
<line x1="323.60" y1="283.32" x2="331.50" y2="283.32" stroke-width="1.1" />
<line x1="273.70" y1="285.93" x2="281.70" y2="285.93" stroke-width="1.1" />
<line x1="323.60" y1="285.93" x2="331.50" y2="285.93" stroke-width="1.1" />
<line x1="273.70" y1="288.54" x2="281.70" y2="288.54" stroke-width="1.1" />
<line x1="323.60" y1="288.54" x2="331.50" y2="288.54" stroke-width="1.1" />
<line x1="273.70" y1="293.77" x2="281.70" y2="293.77" stroke-width="1.1" />
<line x1="323.60" y1="293.77" x2="331.50" y2="293.77" stroke-width="1.1" />
<line x1="273.70" y1="296.38" x2="281.70" y2="296.38" stroke-width="1.1" />
<line x1="323.60" y1="296.38" x2="331.50" y2="296.38" stroke-width="1.1" />
<line x1="273.70" y1="299.00" x2="281.70" y2="299.00" stroke-width="1.1" />
<line x1="323.60" y1="299.00" x2="331.50" y2="299.00" stroke-width="1.1" />
<line x1="273.70" y1="301.61" x2="281.70" y2="301.61" stroke-width="1.1" />
<line x1="323.60" y1="301.61" x2="331.50" y2="301.61" stroke-width="1.1" />
<line x1="273.70" y1="304.22" x2="281.70" y2="304.22" stroke-width="1.1" />
<line x1="323.60" y1="304.22" x2="331.50" y2="304.22" stroke-width="1.1" />
<line x1="273.70" y1="306.83" x2="281.70" y2="306.83" stroke-width="1.1" />
<line x1="323.60" y1="306.83" x2="331.50" y2="306.83" stroke-width="1.1" />
<line x1="273.70" y1="309.45" x2="281.70" y2="309.45" stroke-width="1.1" />
<line x1="323.60" y1="309.45" x2="331.50" y2="309.45" stroke-width="1.1" />
<line x1="273.70" y1="312.06" x2="281.70" y2="312.06" stroke-width="1.1" />
<line x1="323.60" y1="312.06" x2="331.50" y2="312.06" stroke-width="1.1" />
<line x1="273.70" y1="314.67" x2="281.70" y2="314.67" stroke-width="1.1" />
<line x1="323.60" y1="314.67" x2="331.50" y2="314.67" stroke-width="1.1" />
<line x1="273.70" y1="317.29" x2="281.70" y2="317.29" stroke-width="1.1" />
<line x1="323.60" y1="317.29" x2="331.50" y2="317.29" stroke-width="1.1" />
<line x1="273.70" y1="319.90" x2="281.70" y2="319.90" stroke-width="1.1" />
<line x1="323.60" y1="319.90" x2="331.50" y2="319.90" stroke-width="1.1" />
<line x1="273.70" y1="322.51" x2="281.70" y2="322.51" stroke-width="1.1" />
<line x1="323.60" y1="322.51" x2="331.50" y2="322.51" stroke-width="1.1" />
<line x1="69.50" y1="259.60" x2="89.00" y2="280.20" stroke-width="1.0" />
<line x1="90.00" y1="259.80" x2="69.70" y2="280.20" stroke-width="1.0" />
<polygon points="75.10,264.70 84.50,264.70 82.90,278.10 76.70,278.10" fill="none" stroke-width="0.9" />
<path d="M74.10,264.10 q5.7,-4.2 11.4,0" stroke-width="1.1"/>
<line x1="74.10" y1="264.30" x2="85.50" y2="264.30" stroke-width="0.9" />
<circle cx="83.40" cy="277.10" r="0.90" stroke-width="0.8"/>
<line x1="78.00" y1="267.70" x2="82.00" y2="267.70" stroke-width="0.8" />
<rect x="71.20" y="284.60" width="16.20" height="4.30" rx="0" stroke-width="1.0" fill="#000" stroke="none"/>
<path d="M76.41,313.34 A8.75,8.75 0 1 1 76.41,295.86" stroke-width="3.5" stroke="#000"/>
<path d="M94.21,313.34 A8.75,8.75 0 1 1 94.21,295.86" stroke-width="3.5" stroke="#000"/>
<line x1="86.10" y1="304.60" x2="92.50" y2="304.60" stroke-width="3.1" stroke="#000"/>
<path d="M113.61,294.90 L118.14,294.90 L118.14,298.67 L119.54,298.67 L120.03,299.61 L120.78,298.67 L122.48,298.67 L122.48,298.48 L126.25,298.48 L126.25,302.44 L127.39,303.58 L127.08,306.22 L123.24,308.10 L122.10,310.37 L122.18,313.39 L120.59,313.39 L117.95,311.88 L116.44,309.24 L115.39,307.35 L113.88,306.52 L112.37,307.80 L111.16,307.35 L110.03,304.33 L108.44,302.82 L108.44,301.69 L113.61,301.69 Z" fill="#111" stroke="#111" stroke-width="0.5" stroke-linejoin="round"/>
<circle cx="121.16" cy="296.59" r="1.05" fill="#111" stroke="none"/>
<ellipse cx="118.14" cy="302.18" rx="0.85" ry="1.6" fill="#fff" stroke="none"/>
<ellipse cx="122.41" cy="301.76" rx="0.7" ry="1.45" fill="#fff" stroke="none"/>
<path d="M117.76,306.59 Q119.84,308.93 122.03,307.05" stroke="#fff" stroke-width="1.25" fill="none"/>
<text x="130.10" y="306.10" class="ti" textLength="28.6" lengthAdjust="spacingAndGlyphs"><tspan font-size="11.1">T</tspan><tspan font-size="8.9">EXAS</tspan></text>
<text x="132.50" y="315.30" class="ti" textLength="63.0" lengthAdjust="spacingAndGlyphs"><tspan font-size="11.1">I</tspan><tspan font-size="8.9">NSTRUMENTS</tspan></text>
<text x="67.40" y="332.60" class="fcc" textLength="131.2" lengthAdjust="spacingAndGlyphs">For evaluation only; not FCC approved for resale.</text>
</g>
<text class="cap" x="244.8" y="1184.6" textLength="205.4" lengthAdjust="spacingAndGlyphs">Top Overlay (TPS7H6025EVM)</text>
</svg>
</body></html>
